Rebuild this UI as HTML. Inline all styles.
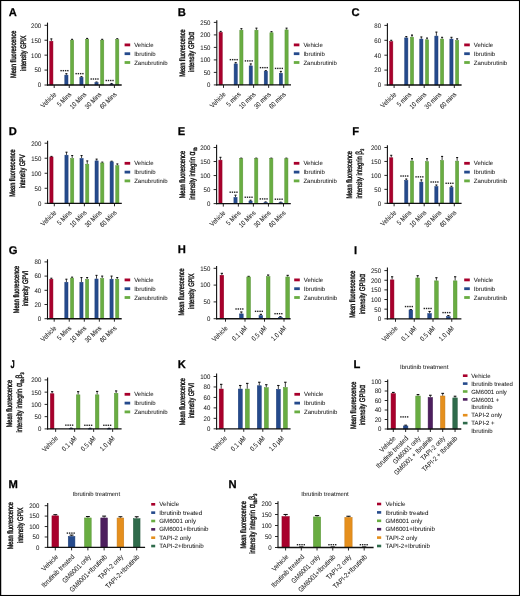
<!DOCTYPE html>
<html><head><meta charset="utf-8"><title>Figure</title>
<style>
html,body{margin:0;padding:0;background:#fff;}
body{width:520px;height:596px;overflow:hidden;}
svg{display:block;font-family:"Liberation Sans", sans-serif;will-change:transform;text-rendering:geometricPrecision;}
text{stroke:#1a1a1a;stroke-width:0.04px;}
.yt{stroke-width:0.42px;}
.lt{stroke:#000;stroke-width:0.25px;}
</style></head><body>
<svg width="520" height="596" viewBox="0 0 520 596">
<rect x="0" y="0" width="520" height="596" fill="#fff"/>
<text class="lt" transform="translate(8.8,16.2) scale(1.0,1)" font-size="11.2" font-weight="bold" fill="#000">A</text>
<line x1="51.35" y1="38.88" x2="51.35" y2="40.97" stroke="#111" stroke-width="0.8"/>
<line x1="50.35" y1="38.88" x2="52.35" y2="38.88" stroke="#111" stroke-width="1.1"/>
<rect x="49.75" y="41.22" width="3.2" height="43.78" fill="#a8002c" stroke="#900025" stroke-width="0.5"/>
<line x1="66.4" y1="73.66" x2="66.4" y2="74.85" stroke="#111" stroke-width="0.8"/>
<line x1="65.4" y1="73.66" x2="67.4" y2="73.66" stroke="#111" stroke-width="1.1"/>
<rect x="64.8" y="75.1" width="3.2" height="9.9" fill="#254a8c" stroke="#1f3f78" stroke-width="0.5"/>
<line x1="72.1" y1="39.33" x2="72.1" y2="39.93" stroke="#111" stroke-width="0.8"/>
<line x1="71.1" y1="39.33" x2="73.1" y2="39.33" stroke="#111" stroke-width="1.1"/>
<rect x="70.5" y="40.18" width="3.2" height="44.82" fill="#69ad42" stroke="#5a9438" stroke-width="0.5"/>
<rect x="60.4" y="69.96" width="1.4" height="1.4" fill="#222"/>
<rect x="62.65" y="69.96" width="1.4" height="1.4" fill="#222"/>
<rect x="64.9" y="69.96" width="1.4" height="1.4" fill="#222"/>
<rect x="67.15" y="69.96" width="1.4" height="1.4" fill="#222"/>
<line x1="81.45" y1="76.64" x2="81.45" y2="77.09" stroke="#111" stroke-width="0.8"/>
<line x1="80.45" y1="76.64" x2="82.45" y2="76.64" stroke="#111" stroke-width="1.1"/>
<rect x="79.85" y="77.34" width="3.2" height="7.66" fill="#254a8c" stroke="#1f3f78" stroke-width="0.5"/>
<line x1="87.15" y1="38.43" x2="87.15" y2="39.03" stroke="#111" stroke-width="0.8"/>
<line x1="86.15" y1="38.43" x2="88.15" y2="38.43" stroke="#111" stroke-width="1.1"/>
<rect x="85.55" y="39.28" width="3.2" height="45.72" fill="#69ad42" stroke="#5a9438" stroke-width="0.5"/>
<rect x="75.45" y="72.94" width="1.4" height="1.4" fill="#222"/>
<rect x="77.7" y="72.94" width="1.4" height="1.4" fill="#222"/>
<rect x="79.95" y="72.94" width="1.4" height="1.4" fill="#222"/>
<rect x="82.2" y="72.94" width="1.4" height="1.4" fill="#222"/>
<line x1="96.5" y1="82.02" x2="96.5" y2="82.31" stroke="#111" stroke-width="0.8"/>
<line x1="95.5" y1="82.02" x2="97.5" y2="82.02" stroke="#111" stroke-width="1.1"/>
<rect x="94.9" y="82.56" width="3.2" height="2.44" fill="#254a8c" stroke="#1f3f78" stroke-width="0.5"/>
<line x1="102.2" y1="39.33" x2="102.2" y2="39.93" stroke="#111" stroke-width="0.8"/>
<line x1="101.2" y1="39.33" x2="103.2" y2="39.33" stroke="#111" stroke-width="1.1"/>
<rect x="100.6" y="40.18" width="3.2" height="44.82" fill="#69ad42" stroke="#5a9438" stroke-width="0.5"/>
<rect x="90.5" y="78.31" width="1.4" height="1.4" fill="#222"/>
<rect x="92.75" y="78.31" width="1.4" height="1.4" fill="#222"/>
<rect x="95" y="78.31" width="1.4" height="1.4" fill="#222"/>
<rect x="97.25" y="78.31" width="1.4" height="1.4" fill="#222"/>
<line x1="111.55" y1="83.51" x2="111.55" y2="83.81" stroke="#111" stroke-width="0.8"/>
<line x1="110.55" y1="83.51" x2="112.55" y2="83.51" stroke="#111" stroke-width="1.1"/>
<rect x="109.95" y="84.06" width="3.2" height="0.94" fill="#254a8c" stroke="#1f3f78" stroke-width="0.5"/>
<line x1="117.25" y1="38.73" x2="117.25" y2="39.33" stroke="#111" stroke-width="0.8"/>
<line x1="116.25" y1="38.73" x2="118.25" y2="38.73" stroke="#111" stroke-width="1.1"/>
<rect x="115.65" y="39.58" width="3.2" height="45.42" fill="#69ad42" stroke="#5a9438" stroke-width="0.5"/>
<rect x="105.55" y="79.81" width="1.4" height="1.4" fill="#222"/>
<rect x="107.8" y="79.81" width="1.4" height="1.4" fill="#222"/>
<rect x="110.05" y="79.81" width="1.4" height="1.4" fill="#222"/>
<rect x="112.3" y="79.81" width="1.4" height="1.4" fill="#222"/>
<text transform="translate(56.8,94.9) rotate(-45) scale(0.85,1)" font-size="6.9" text-anchor="end" fill="#1a1a1a">Vehicle</text>
<text transform="translate(71.85,94.9) rotate(-45) scale(0.85,1)" font-size="6.9" text-anchor="end" fill="#1a1a1a">5 Mins</text>
<text transform="translate(86.9,94.9) rotate(-45) scale(0.85,1)" font-size="6.9" text-anchor="end" fill="#1a1a1a">10 Mins</text>
<text transform="translate(101.95,94.9) rotate(-45) scale(0.85,1)" font-size="6.9" text-anchor="end" fill="#1a1a1a">30 Mins</text>
<text transform="translate(117,94.9) rotate(-45) scale(0.85,1)" font-size="6.9" text-anchor="end" fill="#1a1a1a">60 Mins</text>
<text class="yt" transform="translate(15.5,54.3) rotate(-90) scale(0.7,1)" font-size="8" text-anchor="middle" fill="#1a1a1a">Mean fluorescence</text>
<text class="yt" transform="translate(25.9,53.2) rotate(-90) scale(0.7,1)" font-size="8" text-anchor="middle" fill="#1a1a1a">intensity GPIX</text>
<rect x="124.6" y="43.5" width="5.6" height="2.8" fill="#a8002c"/>
<text x="134.2" y="47" font-size="6.0" fill="#1a1a1a">Vehicle</text>
<rect x="124.6" y="52.3" width="5.6" height="2.8" fill="#254a8c"/>
<text x="134.2" y="55.8" font-size="6.0" fill="#1a1a1a">Ibrutinib</text>
<rect x="124.6" y="61.1" width="5.6" height="2.8" fill="#69ad42"/>
<text x="134.2" y="64.6" font-size="6.0" fill="#1a1a1a">Zanubrutinib</text>
<line x1="47.5" y1="22.6" x2="47.5" y2="85.6" stroke="#111" stroke-width="1.1"/>
<line x1="46.95" y1="85" x2="121.7" y2="85" stroke="#111" stroke-width="1.35"/>
<line x1="44.5" y1="85" x2="47.5" y2="85" stroke="#111" stroke-width="0.9"/>
<text transform="translate(41.2,87.35) scale(0.92,1)" font-size="6.6" text-anchor="end" fill="#1a1a1a">0</text>
<line x1="44.5" y1="70.08" x2="47.5" y2="70.08" stroke="#111" stroke-width="0.9"/>
<text transform="translate(41.2,72.42) scale(0.92,1)" font-size="6.6" text-anchor="end" fill="#1a1a1a">50</text>
<line x1="44.5" y1="55.15" x2="47.5" y2="55.15" stroke="#111" stroke-width="0.9"/>
<text transform="translate(41.2,57.5) scale(0.92,1)" font-size="6.6" text-anchor="end" fill="#1a1a1a">100</text>
<line x1="44.5" y1="40.23" x2="47.5" y2="40.23" stroke="#111" stroke-width="0.9"/>
<text transform="translate(41.2,42.58) scale(0.92,1)" font-size="6.6" text-anchor="end" fill="#1a1a1a">150</text>
<line x1="44.5" y1="25.3" x2="47.5" y2="25.3" stroke="#111" stroke-width="0.9"/>
<text transform="translate(41.2,27.65) scale(0.92,1)" font-size="6.6" text-anchor="end" fill="#1a1a1a">200</text>
<line x1="54.2" y1="85" x2="54.2" y2="88" stroke="#111" stroke-width="0.9"/>
<line x1="69.25" y1="85" x2="69.25" y2="88" stroke="#111" stroke-width="0.9"/>
<line x1="84.3" y1="85" x2="84.3" y2="88" stroke="#111" stroke-width="0.9"/>
<line x1="99.35" y1="85" x2="99.35" y2="88" stroke="#111" stroke-width="0.9"/>
<line x1="114.4" y1="85" x2="114.4" y2="88" stroke="#111" stroke-width="0.9"/>
<text class="lt" transform="translate(177.8,16.2) scale(1.0,1)" font-size="11.2" font-weight="bold" fill="#000">B</text>
<line x1="220.65" y1="31.4" x2="220.65" y2="32.15" stroke="#111" stroke-width="0.8"/>
<line x1="219.65" y1="31.4" x2="221.65" y2="31.4" stroke="#111" stroke-width="1.1"/>
<rect x="219.05" y="32.4" width="3.2" height="52.5" fill="#a8002c" stroke="#900025" stroke-width="0.5"/>
<line x1="235.7" y1="62.65" x2="235.7" y2="63.65" stroke="#111" stroke-width="0.8"/>
<line x1="234.7" y1="62.65" x2="236.7" y2="62.65" stroke="#111" stroke-width="1.1"/>
<rect x="234.1" y="63.9" width="3.2" height="21" fill="#254a8c" stroke="#1f3f78" stroke-width="0.5"/>
<line x1="241.4" y1="28.65" x2="241.4" y2="29.9" stroke="#111" stroke-width="0.8"/>
<line x1="240.4" y1="28.65" x2="242.4" y2="28.65" stroke="#111" stroke-width="1.1"/>
<rect x="239.8" y="30.15" width="3.2" height="54.75" fill="#69ad42" stroke="#5a9438" stroke-width="0.5"/>
<rect x="229.7" y="58.95" width="1.4" height="1.4" fill="#222"/>
<rect x="231.95" y="58.95" width="1.4" height="1.4" fill="#222"/>
<rect x="234.2" y="58.95" width="1.4" height="1.4" fill="#222"/>
<rect x="236.45" y="58.95" width="1.4" height="1.4" fill="#222"/>
<line x1="250.75" y1="63.9" x2="250.75" y2="65.65" stroke="#111" stroke-width="0.8"/>
<line x1="249.75" y1="63.9" x2="251.75" y2="63.9" stroke="#111" stroke-width="1.1"/>
<rect x="249.15" y="65.9" width="3.2" height="19" fill="#254a8c" stroke="#1f3f78" stroke-width="0.5"/>
<line x1="256.45" y1="28.15" x2="256.45" y2="29.9" stroke="#111" stroke-width="0.8"/>
<line x1="255.45" y1="28.15" x2="257.45" y2="28.15" stroke="#111" stroke-width="1.1"/>
<rect x="254.85" y="30.15" width="3.2" height="54.75" fill="#69ad42" stroke="#5a9438" stroke-width="0.5"/>
<rect x="244.75" y="60.2" width="1.4" height="1.4" fill="#222"/>
<rect x="247" y="60.2" width="1.4" height="1.4" fill="#222"/>
<rect x="249.25" y="60.2" width="1.4" height="1.4" fill="#222"/>
<rect x="251.5" y="60.2" width="1.4" height="1.4" fill="#222"/>
<line x1="265.8" y1="70.65" x2="265.8" y2="70.9" stroke="#111" stroke-width="0.8"/>
<line x1="264.8" y1="70.65" x2="266.8" y2="70.65" stroke="#111" stroke-width="1.1"/>
<rect x="264.2" y="71.15" width="3.2" height="13.75" fill="#254a8c" stroke="#1f3f78" stroke-width="0.5"/>
<line x1="271.5" y1="31.65" x2="271.5" y2="32.5" stroke="#111" stroke-width="0.8"/>
<line x1="270.5" y1="31.65" x2="272.5" y2="31.65" stroke="#111" stroke-width="1.1"/>
<rect x="269.9" y="32.75" width="3.2" height="52.15" fill="#69ad42" stroke="#5a9438" stroke-width="0.5"/>
<rect x="259.8" y="66.95" width="1.4" height="1.4" fill="#222"/>
<rect x="262.05" y="66.95" width="1.4" height="1.4" fill="#222"/>
<rect x="264.3" y="66.95" width="1.4" height="1.4" fill="#222"/>
<rect x="266.55" y="66.95" width="1.4" height="1.4" fill="#222"/>
<line x1="280.85" y1="71.4" x2="280.85" y2="73" stroke="#111" stroke-width="0.8"/>
<line x1="279.85" y1="71.4" x2="281.85" y2="71.4" stroke="#111" stroke-width="1.1"/>
<rect x="279.25" y="73.25" width="3.2" height="11.65" fill="#254a8c" stroke="#1f3f78" stroke-width="0.5"/>
<line x1="286.55" y1="28.15" x2="286.55" y2="29.65" stroke="#111" stroke-width="0.8"/>
<line x1="285.55" y1="28.15" x2="287.55" y2="28.15" stroke="#111" stroke-width="1.1"/>
<rect x="284.95" y="29.9" width="3.2" height="55" fill="#69ad42" stroke="#5a9438" stroke-width="0.5"/>
<rect x="274.85" y="67.7" width="1.4" height="1.4" fill="#222"/>
<rect x="277.1" y="67.7" width="1.4" height="1.4" fill="#222"/>
<rect x="279.35" y="67.7" width="1.4" height="1.4" fill="#222"/>
<rect x="281.6" y="67.7" width="1.4" height="1.4" fill="#222"/>
<text transform="translate(226.1,94.8) rotate(-45) scale(0.85,1)" font-size="6.9" text-anchor="end" fill="#1a1a1a">Vehicle</text>
<text transform="translate(241.15,94.8) rotate(-45) scale(0.85,1)" font-size="6.9" text-anchor="end" fill="#1a1a1a">5 mins</text>
<text transform="translate(256.2,94.8) rotate(-45) scale(0.85,1)" font-size="6.9" text-anchor="end" fill="#1a1a1a">10 mins</text>
<text transform="translate(271.25,94.8) rotate(-45) scale(0.85,1)" font-size="6.9" text-anchor="end" fill="#1a1a1a">30 mins</text>
<text transform="translate(286.3,94.8) rotate(-45) scale(0.85,1)" font-size="6.9" text-anchor="end" fill="#1a1a1a">60 mins</text>
<text class="yt" transform="translate(184.6,53.05) rotate(-90) scale(0.7,1)" font-size="8" text-anchor="middle" fill="#1a1a1a">Mean fluorescence</text>
<text class="yt" transform="translate(193.7,51.95) rotate(-90) scale(0.73,1)" font-size="8" text-anchor="middle" fill="#1a1a1a">intensity GPIb<tspan font-size="9.5">α</tspan></text>
<rect x="293.8" y="43.5" width="5.6" height="2.8" fill="#a8002c"/>
<text x="303.4" y="47" font-size="6.0" fill="#1a1a1a">Vehicle</text>
<rect x="293.8" y="52.3" width="5.6" height="2.8" fill="#254a8c"/>
<text x="303.4" y="55.8" font-size="6.0" fill="#1a1a1a">Ibrutinib</text>
<rect x="293.8" y="61.1" width="5.6" height="2.8" fill="#69ad42"/>
<text x="303.4" y="64.6" font-size="6.0" fill="#1a1a1a">Zanubrutinib</text>
<line x1="216.8" y1="20.2" x2="216.8" y2="85.5" stroke="#111" stroke-width="1.1"/>
<line x1="216.25" y1="84.9" x2="291" y2="84.9" stroke="#111" stroke-width="1.35"/>
<line x1="213.8" y1="84.9" x2="216.8" y2="84.9" stroke="#111" stroke-width="0.9"/>
<text transform="translate(210.5,87.25) scale(0.92,1)" font-size="6.6" text-anchor="end" fill="#1a1a1a">0</text>
<line x1="213.8" y1="72.4" x2="216.8" y2="72.4" stroke="#111" stroke-width="0.9"/>
<text transform="translate(210.5,74.75) scale(0.92,1)" font-size="6.6" text-anchor="end" fill="#1a1a1a">50</text>
<line x1="213.8" y1="59.9" x2="216.8" y2="59.9" stroke="#111" stroke-width="0.9"/>
<text transform="translate(210.5,62.25) scale(0.92,1)" font-size="6.6" text-anchor="end" fill="#1a1a1a">100</text>
<line x1="213.8" y1="47.4" x2="216.8" y2="47.4" stroke="#111" stroke-width="0.9"/>
<text transform="translate(210.5,49.75) scale(0.92,1)" font-size="6.6" text-anchor="end" fill="#1a1a1a">150</text>
<line x1="213.8" y1="34.9" x2="216.8" y2="34.9" stroke="#111" stroke-width="0.9"/>
<text transform="translate(210.5,37.25) scale(0.92,1)" font-size="6.6" text-anchor="end" fill="#1a1a1a">200</text>
<line x1="213.8" y1="22.4" x2="216.8" y2="22.4" stroke="#111" stroke-width="0.9"/>
<text transform="translate(210.5,24.75) scale(0.92,1)" font-size="6.6" text-anchor="end" fill="#1a1a1a">250</text>
<line x1="223.5" y1="84.9" x2="223.5" y2="87.9" stroke="#111" stroke-width="0.9"/>
<line x1="238.55" y1="84.9" x2="238.55" y2="87.9" stroke="#111" stroke-width="0.9"/>
<line x1="253.6" y1="84.9" x2="253.6" y2="87.9" stroke="#111" stroke-width="0.9"/>
<line x1="268.65" y1="84.9" x2="268.65" y2="87.9" stroke="#111" stroke-width="0.9"/>
<line x1="283.7" y1="84.9" x2="283.7" y2="87.9" stroke="#111" stroke-width="0.9"/>
<text class="lt" transform="translate(351.6,16.2) scale(1.0,1)" font-size="11.2" font-weight="bold" fill="#000">C</text>
<line x1="391.25" y1="40.3" x2="391.25" y2="41.42" stroke="#111" stroke-width="0.8"/>
<line x1="390.25" y1="40.3" x2="392.25" y2="40.3" stroke="#111" stroke-width="1.1"/>
<rect x="389.65" y="41.67" width="3.2" height="43.33" fill="#a8002c" stroke="#900025" stroke-width="0.5"/>
<line x1="406.3" y1="36.58" x2="406.3" y2="37.69" stroke="#111" stroke-width="0.8"/>
<line x1="405.3" y1="36.58" x2="407.3" y2="36.58" stroke="#111" stroke-width="1.1"/>
<rect x="404.7" y="37.94" width="3.2" height="47.06" fill="#254a8c" stroke="#1f3f78" stroke-width="0.5"/>
<line x1="412" y1="35.09" x2="412" y2="36.95" stroke="#111" stroke-width="0.8"/>
<line x1="411" y1="35.09" x2="413" y2="35.09" stroke="#111" stroke-width="1.1"/>
<rect x="410.4" y="37.2" width="3.2" height="47.8" fill="#69ad42" stroke="#5a9438" stroke-width="0.5"/>
<line x1="421.35" y1="36.95" x2="421.35" y2="38.81" stroke="#111" stroke-width="0.8"/>
<line x1="420.35" y1="36.95" x2="422.35" y2="36.95" stroke="#111" stroke-width="1.1"/>
<rect x="419.75" y="39.06" width="3.2" height="45.94" fill="#254a8c" stroke="#1f3f78" stroke-width="0.5"/>
<line x1="427.05" y1="38.06" x2="427.05" y2="39.55" stroke="#111" stroke-width="0.8"/>
<line x1="426.05" y1="38.06" x2="428.05" y2="38.06" stroke="#111" stroke-width="1.1"/>
<rect x="425.45" y="39.8" width="3.2" height="45.2" fill="#69ad42" stroke="#5a9438" stroke-width="0.5"/>
<line x1="436.4" y1="32.1" x2="436.4" y2="35.83" stroke="#111" stroke-width="0.8"/>
<line x1="435.4" y1="32.1" x2="437.4" y2="32.1" stroke="#111" stroke-width="1.1"/>
<rect x="434.8" y="36.08" width="3.2" height="48.92" fill="#254a8c" stroke="#1f3f78" stroke-width="0.5"/>
<line x1="442.1" y1="37.32" x2="442.1" y2="38.81" stroke="#111" stroke-width="0.8"/>
<line x1="441.1" y1="37.32" x2="443.1" y2="37.32" stroke="#111" stroke-width="1.1"/>
<rect x="440.5" y="39.06" width="3.2" height="45.94" fill="#69ad42" stroke="#5a9438" stroke-width="0.5"/>
<line x1="451.45" y1="37.32" x2="451.45" y2="38.81" stroke="#111" stroke-width="0.8"/>
<line x1="450.45" y1="37.32" x2="452.45" y2="37.32" stroke="#111" stroke-width="1.1"/>
<rect x="449.85" y="39.06" width="3.2" height="45.94" fill="#254a8c" stroke="#1f3f78" stroke-width="0.5"/>
<line x1="457.15" y1="38.81" x2="457.15" y2="40.3" stroke="#111" stroke-width="0.8"/>
<line x1="456.15" y1="38.81" x2="458.15" y2="38.81" stroke="#111" stroke-width="1.1"/>
<rect x="455.55" y="40.55" width="3.2" height="44.45" fill="#69ad42" stroke="#5a9438" stroke-width="0.5"/>
<text transform="translate(396.7,94.9) rotate(-45) scale(0.85,1)" font-size="6.9" text-anchor="end" fill="#1a1a1a">Vehicle</text>
<text transform="translate(411.75,94.9) rotate(-45) scale(0.85,1)" font-size="6.9" text-anchor="end" fill="#1a1a1a">5 mins</text>
<text transform="translate(426.8,94.9) rotate(-45) scale(0.85,1)" font-size="6.9" text-anchor="end" fill="#1a1a1a">10 mins</text>
<text transform="translate(441.85,94.9) rotate(-45) scale(0.85,1)" font-size="6.9" text-anchor="end" fill="#1a1a1a">30 mins</text>
<text transform="translate(456.9,94.9) rotate(-45) scale(0.85,1)" font-size="6.9" text-anchor="end" fill="#1a1a1a">60 mins</text>
<rect x="464.2" y="43.5" width="5.6" height="2.8" fill="#a8002c"/>
<text x="473.8" y="47" font-size="6.0" fill="#1a1a1a">Vehicle</text>
<rect x="464.2" y="52.3" width="5.6" height="2.8" fill="#254a8c"/>
<text x="473.8" y="55.8" font-size="6.0" fill="#1a1a1a">Ibrutinib</text>
<rect x="464.2" y="61.1" width="5.6" height="2.8" fill="#69ad42"/>
<text x="473.8" y="64.6" font-size="6.0" fill="#1a1a1a">Zanubrutinib</text>
<line x1="387.4" y1="23.2" x2="387.4" y2="85.6" stroke="#111" stroke-width="1.1"/>
<line x1="386.85" y1="85" x2="461.6" y2="85" stroke="#111" stroke-width="1.35"/>
<line x1="384.4" y1="85" x2="387.4" y2="85" stroke="#111" stroke-width="0.9"/>
<text transform="translate(381.1,87.35) scale(0.92,1)" font-size="6.6" text-anchor="end" fill="#1a1a1a">0</text>
<line x1="384.4" y1="70.1" x2="387.4" y2="70.1" stroke="#111" stroke-width="0.9"/>
<text transform="translate(381.1,72.45) scale(0.92,1)" font-size="6.6" text-anchor="end" fill="#1a1a1a">20</text>
<line x1="384.4" y1="55.2" x2="387.4" y2="55.2" stroke="#111" stroke-width="0.9"/>
<text transform="translate(381.1,57.55) scale(0.92,1)" font-size="6.6" text-anchor="end" fill="#1a1a1a">40</text>
<line x1="384.4" y1="40.3" x2="387.4" y2="40.3" stroke="#111" stroke-width="0.9"/>
<text transform="translate(381.1,42.65) scale(0.92,1)" font-size="6.6" text-anchor="end" fill="#1a1a1a">60</text>
<line x1="384.4" y1="25.4" x2="387.4" y2="25.4" stroke="#111" stroke-width="0.9"/>
<text transform="translate(381.1,27.75) scale(0.92,1)" font-size="6.6" text-anchor="end" fill="#1a1a1a">80</text>
<line x1="394.1" y1="85" x2="394.1" y2="88" stroke="#111" stroke-width="0.9"/>
<line x1="409.15" y1="85" x2="409.15" y2="88" stroke="#111" stroke-width="0.9"/>
<line x1="424.2" y1="85" x2="424.2" y2="88" stroke="#111" stroke-width="0.9"/>
<line x1="439.25" y1="85" x2="439.25" y2="88" stroke="#111" stroke-width="0.9"/>
<line x1="454.3" y1="85" x2="454.3" y2="88" stroke="#111" stroke-width="0.9"/>
<text class="lt" transform="translate(8.8,134.8) scale(1.0,1)" font-size="11.2" font-weight="bold" fill="#000">D</text>
<line x1="51.45" y1="156.42" x2="51.45" y2="156.72" stroke="#111" stroke-width="0.8"/>
<line x1="50.45" y1="156.42" x2="52.45" y2="156.42" stroke="#111" stroke-width="1.1"/>
<rect x="49.85" y="156.97" width="3.2" height="46.33" fill="#a8002c" stroke="#900025" stroke-width="0.5"/>
<line x1="66.5" y1="152.22" x2="66.5" y2="154.92" stroke="#111" stroke-width="0.8"/>
<line x1="65.5" y1="152.22" x2="67.5" y2="152.22" stroke="#111" stroke-width="1.1"/>
<rect x="64.9" y="155.17" width="3.2" height="48.13" fill="#254a8c" stroke="#1f3f78" stroke-width="0.5"/>
<line x1="72.2" y1="155.52" x2="72.2" y2="158.23" stroke="#111" stroke-width="0.8"/>
<line x1="71.2" y1="155.52" x2="73.2" y2="155.52" stroke="#111" stroke-width="1.1"/>
<rect x="70.6" y="158.48" width="3.2" height="44.82" fill="#69ad42" stroke="#5a9438" stroke-width="0.5"/>
<line x1="81.55" y1="155.52" x2="81.55" y2="158.23" stroke="#111" stroke-width="0.8"/>
<line x1="80.55" y1="155.52" x2="82.55" y2="155.52" stroke="#111" stroke-width="1.1"/>
<rect x="79.95" y="158.48" width="3.2" height="44.82" fill="#254a8c" stroke="#1f3f78" stroke-width="0.5"/>
<line x1="87.25" y1="160.93" x2="87.25" y2="163.93" stroke="#111" stroke-width="0.8"/>
<line x1="86.25" y1="160.93" x2="88.25" y2="160.93" stroke="#111" stroke-width="1.1"/>
<rect x="85.65" y="164.18" width="3.2" height="39.12" fill="#69ad42" stroke="#5a9438" stroke-width="0.5"/>
<line x1="96.6" y1="159.13" x2="96.6" y2="160.63" stroke="#111" stroke-width="0.8"/>
<line x1="95.6" y1="159.13" x2="97.6" y2="159.13" stroke="#111" stroke-width="1.1"/>
<rect x="95" y="160.88" width="3.2" height="42.42" fill="#254a8c" stroke="#1f3f78" stroke-width="0.5"/>
<line x1="102.3" y1="162.13" x2="102.3" y2="162.73" stroke="#111" stroke-width="0.8"/>
<line x1="101.3" y1="162.13" x2="103.3" y2="162.13" stroke="#111" stroke-width="1.1"/>
<rect x="100.7" y="162.98" width="3.2" height="40.32" fill="#69ad42" stroke="#5a9438" stroke-width="0.5"/>
<line x1="111.65" y1="161.23" x2="111.65" y2="161.53" stroke="#111" stroke-width="0.8"/>
<line x1="110.65" y1="161.23" x2="112.65" y2="161.23" stroke="#111" stroke-width="1.1"/>
<rect x="110.05" y="161.78" width="3.2" height="41.52" fill="#254a8c" stroke="#1f3f78" stroke-width="0.5"/>
<line x1="117.35" y1="163.93" x2="117.35" y2="165.44" stroke="#111" stroke-width="0.8"/>
<line x1="116.35" y1="163.93" x2="118.35" y2="163.93" stroke="#111" stroke-width="1.1"/>
<rect x="115.75" y="165.69" width="3.2" height="37.61" fill="#69ad42" stroke="#5a9438" stroke-width="0.5"/>
<text transform="translate(56.9,213.2) rotate(-45) scale(0.85,1)" font-size="6.9" text-anchor="end" fill="#1a1a1a">Vehicle</text>
<text transform="translate(71.95,213.2) rotate(-45) scale(0.85,1)" font-size="6.9" text-anchor="end" fill="#1a1a1a">5 Mins</text>
<text transform="translate(87,213.2) rotate(-45) scale(0.85,1)" font-size="6.9" text-anchor="end" fill="#1a1a1a">10 Mins</text>
<text transform="translate(102.05,213.2) rotate(-45) scale(0.85,1)" font-size="6.9" text-anchor="end" fill="#1a1a1a">30 Mins</text>
<text transform="translate(117.1,213.2) rotate(-45) scale(0.85,1)" font-size="6.9" text-anchor="end" fill="#1a1a1a">60 Mins</text>
<text class="yt" transform="translate(15.3,173.1) rotate(-90) scale(0.7,1)" font-size="8" text-anchor="middle" fill="#1a1a1a">Mean fluorescence</text>
<text class="yt" transform="translate(25.2,171.4) rotate(-90) scale(0.7,1)" font-size="8" text-anchor="middle" fill="#1a1a1a">intensity GPV</text>
<rect x="124.6" y="161.9" width="5.6" height="2.8" fill="#a8002c"/>
<text x="134.2" y="165.4" font-size="6.0" fill="#1a1a1a">Vehicle</text>
<rect x="124.6" y="170.7" width="5.6" height="2.8" fill="#254a8c"/>
<text x="134.2" y="174.2" font-size="6.0" fill="#1a1a1a">Ibrutinib</text>
<rect x="124.6" y="179.5" width="5.6" height="2.8" fill="#69ad42"/>
<text x="134.2" y="183" font-size="6.0" fill="#1a1a1a">Zanubrutinib</text>
<line x1="47.6" y1="140.7" x2="47.6" y2="203.9" stroke="#111" stroke-width="1.1"/>
<line x1="47.05" y1="203.3" x2="121.8" y2="203.3" stroke="#111" stroke-width="1.35"/>
<line x1="44.6" y1="203.3" x2="47.6" y2="203.3" stroke="#111" stroke-width="0.9"/>
<text transform="translate(41.3,205.65) scale(0.92,1)" font-size="6.6" text-anchor="end" fill="#1a1a1a">0</text>
<line x1="44.6" y1="188.28" x2="47.6" y2="188.28" stroke="#111" stroke-width="0.9"/>
<text transform="translate(41.3,190.62) scale(0.92,1)" font-size="6.6" text-anchor="end" fill="#1a1a1a">50</text>
<line x1="44.6" y1="173.25" x2="47.6" y2="173.25" stroke="#111" stroke-width="0.9"/>
<text transform="translate(41.3,175.6) scale(0.92,1)" font-size="6.6" text-anchor="end" fill="#1a1a1a">100</text>
<line x1="44.6" y1="158.23" x2="47.6" y2="158.23" stroke="#111" stroke-width="0.9"/>
<text transform="translate(41.3,160.58) scale(0.92,1)" font-size="6.6" text-anchor="end" fill="#1a1a1a">150</text>
<line x1="44.6" y1="143.2" x2="47.6" y2="143.2" stroke="#111" stroke-width="0.9"/>
<text transform="translate(41.3,145.55) scale(0.92,1)" font-size="6.6" text-anchor="end" fill="#1a1a1a">200</text>
<line x1="54.3" y1="203.3" x2="54.3" y2="206.3" stroke="#111" stroke-width="0.9"/>
<line x1="69.35" y1="203.3" x2="69.35" y2="206.3" stroke="#111" stroke-width="0.9"/>
<line x1="84.4" y1="203.3" x2="84.4" y2="206.3" stroke="#111" stroke-width="0.9"/>
<line x1="99.45" y1="203.3" x2="99.45" y2="206.3" stroke="#111" stroke-width="0.9"/>
<line x1="114.5" y1="203.3" x2="114.5" y2="206.3" stroke="#111" stroke-width="0.9"/>
<text class="lt" transform="translate(177.8,134.6) scale(1.0,1)" font-size="11.2" font-weight="bold" fill="#000">E</text>
<line x1="220.45" y1="157.32" x2="220.45" y2="159.9" stroke="#111" stroke-width="0.8"/>
<line x1="219.45" y1="157.32" x2="221.45" y2="157.32" stroke="#111" stroke-width="1.1"/>
<rect x="218.85" y="160.15" width="3.2" height="43.45" fill="#a8002c" stroke="#900025" stroke-width="0.5"/>
<line x1="235.5" y1="195.19" x2="235.5" y2="197.15" stroke="#111" stroke-width="0.8"/>
<line x1="234.5" y1="195.19" x2="236.5" y2="195.19" stroke="#111" stroke-width="1.1"/>
<rect x="233.9" y="197.4" width="3.2" height="6.2" fill="#254a8c" stroke="#1f3f78" stroke-width="0.5"/>
<line x1="241.2" y1="158.16" x2="241.2" y2="158.44" stroke="#111" stroke-width="0.8"/>
<line x1="240.2" y1="158.16" x2="242.2" y2="158.16" stroke="#111" stroke-width="1.1"/>
<rect x="239.6" y="158.69" width="3.2" height="44.91" fill="#69ad42" stroke="#5a9438" stroke-width="0.5"/>
<rect x="229.5" y="191.49" width="1.4" height="1.4" fill="#222"/>
<rect x="231.75" y="191.49" width="1.4" height="1.4" fill="#222"/>
<rect x="234" y="191.49" width="1.4" height="1.4" fill="#222"/>
<rect x="236.25" y="191.49" width="1.4" height="1.4" fill="#222"/>
<line x1="250.55" y1="200.23" x2="250.55" y2="200.79" stroke="#111" stroke-width="0.8"/>
<line x1="249.55" y1="200.23" x2="251.55" y2="200.23" stroke="#111" stroke-width="1.1"/>
<rect x="248.95" y="201.04" width="3.2" height="2.56" fill="#254a8c" stroke="#1f3f78" stroke-width="0.5"/>
<line x1="256.25" y1="158.16" x2="256.25" y2="158.44" stroke="#111" stroke-width="0.8"/>
<line x1="255.25" y1="158.16" x2="257.25" y2="158.16" stroke="#111" stroke-width="1.1"/>
<rect x="254.65" y="158.69" width="3.2" height="44.91" fill="#69ad42" stroke="#5a9438" stroke-width="0.5"/>
<rect x="244.55" y="196.53" width="1.4" height="1.4" fill="#222"/>
<rect x="246.8" y="196.53" width="1.4" height="1.4" fill="#222"/>
<rect x="249.05" y="196.53" width="1.4" height="1.4" fill="#222"/>
<rect x="251.3" y="196.53" width="1.4" height="1.4" fill="#222"/>
<line x1="265.6" y1="201.92" x2="265.6" y2="202.2" stroke="#111" stroke-width="0.8"/>
<line x1="264.6" y1="201.92" x2="266.6" y2="201.92" stroke="#111" stroke-width="1.1"/>
<rect x="264" y="202.45" width="3.2" height="1.15" fill="#254a8c" stroke="#1f3f78" stroke-width="0.5"/>
<line x1="271.3" y1="158.16" x2="271.3" y2="158.44" stroke="#111" stroke-width="0.8"/>
<line x1="270.3" y1="158.16" x2="272.3" y2="158.16" stroke="#111" stroke-width="1.1"/>
<rect x="269.7" y="158.69" width="3.2" height="44.91" fill="#69ad42" stroke="#5a9438" stroke-width="0.5"/>
<rect x="259.6" y="198.22" width="1.4" height="1.4" fill="#222"/>
<rect x="261.85" y="198.22" width="1.4" height="1.4" fill="#222"/>
<rect x="264.1" y="198.22" width="1.4" height="1.4" fill="#222"/>
<rect x="266.35" y="198.22" width="1.4" height="1.4" fill="#222"/>
<line x1="280.65" y1="202.2" x2="280.65" y2="202.48" stroke="#111" stroke-width="0.8"/>
<line x1="279.65" y1="202.2" x2="281.65" y2="202.2" stroke="#111" stroke-width="1.1"/>
<rect x="279.05" y="202.73" width="3.2" height="0.87" fill="#254a8c" stroke="#1f3f78" stroke-width="0.5"/>
<line x1="286.35" y1="158.16" x2="286.35" y2="158.44" stroke="#111" stroke-width="0.8"/>
<line x1="285.35" y1="158.16" x2="287.35" y2="158.16" stroke="#111" stroke-width="1.1"/>
<rect x="284.75" y="158.69" width="3.2" height="44.91" fill="#69ad42" stroke="#5a9438" stroke-width="0.5"/>
<rect x="274.65" y="198.5" width="1.4" height="1.4" fill="#222"/>
<rect x="276.9" y="198.5" width="1.4" height="1.4" fill="#222"/>
<rect x="279.15" y="198.5" width="1.4" height="1.4" fill="#222"/>
<rect x="281.4" y="198.5" width="1.4" height="1.4" fill="#222"/>
<text transform="translate(225.9,213.5) rotate(-45) scale(0.85,1)" font-size="6.9" text-anchor="end" fill="#1a1a1a">Vehicle</text>
<text transform="translate(240.95,213.5) rotate(-45) scale(0.85,1)" font-size="6.9" text-anchor="end" fill="#1a1a1a">5 Mins</text>
<text transform="translate(256,213.5) rotate(-45) scale(0.85,1)" font-size="6.9" text-anchor="end" fill="#1a1a1a">10 Mins</text>
<text transform="translate(271.05,213.5) rotate(-45) scale(0.85,1)" font-size="6.9" text-anchor="end" fill="#1a1a1a">30 Mins</text>
<text transform="translate(286.1,213.5) rotate(-45) scale(0.85,1)" font-size="6.9" text-anchor="end" fill="#1a1a1a">60 Mins</text>
<text class="yt" transform="translate(184.6,174.65) rotate(-90) scale(0.7,1)" font-size="8" text-anchor="middle" fill="#1a1a1a">Mean fluorescence</text>
<text class="yt" transform="translate(195,173.55) rotate(-90) scale(0.74,1)" font-size="8" text-anchor="middle" fill="#1a1a1a">intensity integrin <tspan font-size="9.5">α</tspan><tspan font-size="5" dy="1.8">IIb</tspan></text>
<rect x="293.8" y="161.9" width="5.6" height="2.8" fill="#a8002c"/>
<text x="303.4" y="165.4" font-size="6.0" fill="#1a1a1a">Vehicle</text>
<rect x="293.8" y="170.7" width="5.6" height="2.8" fill="#254a8c"/>
<text x="303.4" y="174.2" font-size="6.0" fill="#1a1a1a">Ibrutinib</text>
<rect x="293.8" y="179.5" width="5.6" height="2.8" fill="#69ad42"/>
<text x="303.4" y="183" font-size="6.0" fill="#1a1a1a">Zanubrutinib</text>
<line x1="216.6" y1="144.7" x2="216.6" y2="204.2" stroke="#111" stroke-width="1.1"/>
<line x1="216.05" y1="203.6" x2="290.8" y2="203.6" stroke="#111" stroke-width="1.35"/>
<line x1="213.6" y1="203.6" x2="216.6" y2="203.6" stroke="#111" stroke-width="0.9"/>
<text transform="translate(210.3,205.95) scale(0.92,1)" font-size="6.6" text-anchor="end" fill="#1a1a1a">0</text>
<line x1="213.6" y1="189.57" x2="216.6" y2="189.57" stroke="#111" stroke-width="0.9"/>
<text transform="translate(210.3,191.92) scale(0.92,1)" font-size="6.6" text-anchor="end" fill="#1a1a1a">50</text>
<line x1="213.6" y1="175.55" x2="216.6" y2="175.55" stroke="#111" stroke-width="0.9"/>
<text transform="translate(210.3,177.9) scale(0.92,1)" font-size="6.6" text-anchor="end" fill="#1a1a1a">100</text>
<line x1="213.6" y1="161.52" x2="216.6" y2="161.52" stroke="#111" stroke-width="0.9"/>
<text transform="translate(210.3,163.87) scale(0.92,1)" font-size="6.6" text-anchor="end" fill="#1a1a1a">150</text>
<line x1="213.6" y1="147.5" x2="216.6" y2="147.5" stroke="#111" stroke-width="0.9"/>
<text transform="translate(210.3,149.85) scale(0.92,1)" font-size="6.6" text-anchor="end" fill="#1a1a1a">200</text>
<line x1="223.3" y1="203.6" x2="223.3" y2="206.6" stroke="#111" stroke-width="0.9"/>
<line x1="238.35" y1="203.6" x2="238.35" y2="206.6" stroke="#111" stroke-width="0.9"/>
<line x1="253.4" y1="203.6" x2="253.4" y2="206.6" stroke="#111" stroke-width="0.9"/>
<line x1="268.45" y1="203.6" x2="268.45" y2="206.6" stroke="#111" stroke-width="0.9"/>
<line x1="283.5" y1="203.6" x2="283.5" y2="206.6" stroke="#111" stroke-width="0.9"/>
<text class="lt" transform="translate(352.2,134.6) scale(1.0,1)" font-size="11.2" font-weight="bold" fill="#000">F</text>
<line x1="391.25" y1="155.31" x2="391.25" y2="157.54" stroke="#111" stroke-width="0.8"/>
<line x1="390.25" y1="155.31" x2="392.25" y2="155.31" stroke="#111" stroke-width="1.1"/>
<rect x="389.65" y="157.79" width="3.2" height="45.51" fill="#a8002c" stroke="#900025" stroke-width="0.5"/>
<line x1="406.3" y1="179.03" x2="406.3" y2="180.14" stroke="#111" stroke-width="0.8"/>
<line x1="405.3" y1="179.03" x2="407.3" y2="179.03" stroke="#111" stroke-width="1.1"/>
<rect x="404.7" y="180.39" width="3.2" height="22.91" fill="#254a8c" stroke="#1f3f78" stroke-width="0.5"/>
<line x1="412" y1="158.66" x2="412" y2="160.75" stroke="#111" stroke-width="0.8"/>
<line x1="411" y1="158.66" x2="413" y2="158.66" stroke="#111" stroke-width="1.1"/>
<rect x="410.4" y="161" width="3.2" height="42.3" fill="#69ad42" stroke="#5a9438" stroke-width="0.5"/>
<rect x="400.3" y="175.33" width="1.4" height="1.4" fill="#222"/>
<rect x="402.55" y="175.33" width="1.4" height="1.4" fill="#222"/>
<rect x="404.8" y="175.33" width="1.4" height="1.4" fill="#222"/>
<rect x="407.05" y="175.33" width="1.4" height="1.4" fill="#222"/>
<line x1="421.35" y1="179.86" x2="421.35" y2="181.82" stroke="#111" stroke-width="0.8"/>
<line x1="420.35" y1="179.86" x2="422.35" y2="179.86" stroke="#111" stroke-width="1.1"/>
<rect x="419.75" y="182.07" width="3.2" height="21.23" fill="#254a8c" stroke="#1f3f78" stroke-width="0.5"/>
<line x1="427.05" y1="158.66" x2="427.05" y2="161.31" stroke="#111" stroke-width="0.8"/>
<line x1="426.05" y1="158.66" x2="428.05" y2="158.66" stroke="#111" stroke-width="1.1"/>
<rect x="425.45" y="161.56" width="3.2" height="41.74" fill="#69ad42" stroke="#5a9438" stroke-width="0.5"/>
<rect x="415.35" y="176.16" width="1.4" height="1.4" fill="#222"/>
<rect x="417.6" y="176.16" width="1.4" height="1.4" fill="#222"/>
<rect x="419.85" y="176.16" width="1.4" height="1.4" fill="#222"/>
<rect x="422.1" y="176.16" width="1.4" height="1.4" fill="#222"/>
<line x1="436.4" y1="185" x2="436.4" y2="186.28" stroke="#111" stroke-width="0.8"/>
<line x1="435.4" y1="185" x2="437.4" y2="185" stroke="#111" stroke-width="1.1"/>
<rect x="434.8" y="186.53" width="3.2" height="16.77" fill="#254a8c" stroke="#1f3f78" stroke-width="0.5"/>
<line x1="442.1" y1="156.43" x2="442.1" y2="160.19" stroke="#111" stroke-width="0.8"/>
<line x1="441.1" y1="156.43" x2="443.1" y2="156.43" stroke="#111" stroke-width="1.1"/>
<rect x="440.5" y="160.44" width="3.2" height="42.86" fill="#69ad42" stroke="#5a9438" stroke-width="0.5"/>
<rect x="430.4" y="181.3" width="1.4" height="1.4" fill="#222"/>
<rect x="432.65" y="181.3" width="1.4" height="1.4" fill="#222"/>
<rect x="434.9" y="181.3" width="1.4" height="1.4" fill="#222"/>
<rect x="437.15" y="181.3" width="1.4" height="1.4" fill="#222"/>
<line x1="451.45" y1="186.28" x2="451.45" y2="187.12" stroke="#111" stroke-width="0.8"/>
<line x1="450.45" y1="186.28" x2="452.45" y2="186.28" stroke="#111" stroke-width="1.1"/>
<rect x="449.85" y="187.37" width="3.2" height="15.93" fill="#254a8c" stroke="#1f3f78" stroke-width="0.5"/>
<line x1="457.15" y1="157.54" x2="457.15" y2="160.89" stroke="#111" stroke-width="0.8"/>
<line x1="456.15" y1="157.54" x2="458.15" y2="157.54" stroke="#111" stroke-width="1.1"/>
<rect x="455.55" y="161.14" width="3.2" height="42.16" fill="#69ad42" stroke="#5a9438" stroke-width="0.5"/>
<rect x="445.45" y="182.58" width="1.4" height="1.4" fill="#222"/>
<rect x="447.7" y="182.58" width="1.4" height="1.4" fill="#222"/>
<rect x="449.95" y="182.58" width="1.4" height="1.4" fill="#222"/>
<rect x="452.2" y="182.58" width="1.4" height="1.4" fill="#222"/>
<text transform="translate(396.7,213.2) rotate(-45) scale(0.85,1)" font-size="6.9" text-anchor="end" fill="#1a1a1a">Vehicle</text>
<text transform="translate(411.75,213.2) rotate(-45) scale(0.85,1)" font-size="6.9" text-anchor="end" fill="#1a1a1a">5 Mins</text>
<text transform="translate(426.8,213.2) rotate(-45) scale(0.85,1)" font-size="6.9" text-anchor="end" fill="#1a1a1a">10 Mins</text>
<text transform="translate(441.85,213.2) rotate(-45) scale(0.85,1)" font-size="6.9" text-anchor="end" fill="#1a1a1a">30 Mins</text>
<text transform="translate(456.9,213.2) rotate(-45) scale(0.85,1)" font-size="6.9" text-anchor="end" fill="#1a1a1a">60 Mins</text>
<text class="yt" transform="translate(351.7,174.75) rotate(-90) scale(0.7,1)" font-size="8" text-anchor="middle" fill="#1a1a1a">Mean fluorescence</text>
<text class="yt" transform="translate(361.8,173.65) rotate(-90) scale(0.73,1)" font-size="8" text-anchor="middle" fill="#1a1a1a">intensity integrin <tspan font-size="9">β</tspan><tspan font-size="5" dy="1.8">3</tspan></text>
<rect x="464.2" y="161.9" width="5.6" height="2.8" fill="#a8002c"/>
<text x="473.8" y="165.4" font-size="6.0" fill="#1a1a1a">Vehicle</text>
<rect x="464.2" y="170.7" width="5.6" height="2.8" fill="#254a8c"/>
<text x="473.8" y="174.2" font-size="6.0" fill="#1a1a1a">Ibrutinib</text>
<rect x="464.2" y="179.5" width="5.6" height="2.8" fill="#69ad42"/>
<text x="473.8" y="183" font-size="6.0" fill="#1a1a1a">Zanubrutinib</text>
<line x1="387.4" y1="145.2" x2="387.4" y2="203.9" stroke="#111" stroke-width="1.1"/>
<line x1="386.85" y1="203.3" x2="461.6" y2="203.3" stroke="#111" stroke-width="1.35"/>
<line x1="384.4" y1="203.3" x2="387.4" y2="203.3" stroke="#111" stroke-width="0.9"/>
<text transform="translate(381.1,205.65) scale(0.92,1)" font-size="6.6" text-anchor="end" fill="#1a1a1a">0</text>
<line x1="384.4" y1="189.35" x2="387.4" y2="189.35" stroke="#111" stroke-width="0.9"/>
<text transform="translate(381.1,191.7) scale(0.92,1)" font-size="6.6" text-anchor="end" fill="#1a1a1a">50</text>
<line x1="384.4" y1="175.4" x2="387.4" y2="175.4" stroke="#111" stroke-width="0.9"/>
<text transform="translate(381.1,177.75) scale(0.92,1)" font-size="6.6" text-anchor="end" fill="#1a1a1a">100</text>
<line x1="384.4" y1="161.45" x2="387.4" y2="161.45" stroke="#111" stroke-width="0.9"/>
<text transform="translate(381.1,163.8) scale(0.92,1)" font-size="6.6" text-anchor="end" fill="#1a1a1a">150</text>
<line x1="384.4" y1="147.5" x2="387.4" y2="147.5" stroke="#111" stroke-width="0.9"/>
<text transform="translate(381.1,149.85) scale(0.92,1)" font-size="6.6" text-anchor="end" fill="#1a1a1a">200</text>
<line x1="394.1" y1="203.3" x2="394.1" y2="206.3" stroke="#111" stroke-width="0.9"/>
<line x1="409.15" y1="203.3" x2="409.15" y2="206.3" stroke="#111" stroke-width="0.9"/>
<line x1="424.2" y1="203.3" x2="424.2" y2="206.3" stroke="#111" stroke-width="0.9"/>
<line x1="439.25" y1="203.3" x2="439.25" y2="206.3" stroke="#111" stroke-width="0.9"/>
<line x1="454.3" y1="203.3" x2="454.3" y2="206.3" stroke="#111" stroke-width="0.9"/>
<text class="lt" transform="translate(8.8,253.6) scale(1.0,1)" font-size="11.2" font-weight="bold" fill="#000">G</text>
<line x1="51.35" y1="278.23" x2="51.35" y2="278.94" stroke="#111" stroke-width="0.8"/>
<line x1="50.35" y1="278.23" x2="52.35" y2="278.23" stroke="#111" stroke-width="1.1"/>
<rect x="49.75" y="279.19" width="3.2" height="39.51" fill="#a8002c" stroke="#900025" stroke-width="0.5"/>
<line x1="66.4" y1="279.22" x2="66.4" y2="281.99" stroke="#111" stroke-width="0.8"/>
<line x1="65.4" y1="279.22" x2="67.4" y2="279.22" stroke="#111" stroke-width="1.1"/>
<rect x="64.8" y="282.24" width="3.2" height="36.46" fill="#254a8c" stroke="#1f3f78" stroke-width="0.5"/>
<line x1="72.1" y1="277.16" x2="72.1" y2="277.88" stroke="#111" stroke-width="0.8"/>
<line x1="71.1" y1="277.16" x2="73.1" y2="277.16" stroke="#111" stroke-width="1.1"/>
<rect x="70.5" y="278.12" width="3.2" height="40.57" fill="#69ad42" stroke="#5a9438" stroke-width="0.5"/>
<line x1="81.45" y1="277.52" x2="81.45" y2="281.99" stroke="#111" stroke-width="0.8"/>
<line x1="80.45" y1="277.52" x2="82.45" y2="277.52" stroke="#111" stroke-width="1.1"/>
<rect x="79.85" y="282.24" width="3.2" height="36.46" fill="#254a8c" stroke="#1f3f78" stroke-width="0.5"/>
<line x1="87.15" y1="277.52" x2="87.15" y2="279.22" stroke="#111" stroke-width="0.8"/>
<line x1="86.15" y1="277.52" x2="88.15" y2="277.52" stroke="#111" stroke-width="1.1"/>
<rect x="85.55" y="279.47" width="3.2" height="39.23" fill="#69ad42" stroke="#5a9438" stroke-width="0.5"/>
<line x1="96.5" y1="275.39" x2="96.5" y2="278.73" stroke="#111" stroke-width="0.8"/>
<line x1="95.5" y1="275.39" x2="97.5" y2="275.39" stroke="#111" stroke-width="1.1"/>
<rect x="94.9" y="278.98" width="3.2" height="39.72" fill="#254a8c" stroke="#1f3f78" stroke-width="0.5"/>
<line x1="102.2" y1="276.1" x2="102.2" y2="278.23" stroke="#111" stroke-width="0.8"/>
<line x1="101.2" y1="276.1" x2="103.2" y2="276.1" stroke="#111" stroke-width="1.1"/>
<rect x="100.6" y="278.48" width="3.2" height="40.22" fill="#69ad42" stroke="#5a9438" stroke-width="0.5"/>
<line x1="111.55" y1="276.1" x2="111.55" y2="278.94" stroke="#111" stroke-width="0.8"/>
<line x1="110.55" y1="276.1" x2="112.55" y2="276.1" stroke="#111" stroke-width="1.1"/>
<rect x="109.95" y="279.19" width="3.2" height="39.51" fill="#254a8c" stroke="#1f3f78" stroke-width="0.5"/>
<line x1="117.25" y1="277.52" x2="117.25" y2="278.94" stroke="#111" stroke-width="0.8"/>
<line x1="116.25" y1="277.52" x2="118.25" y2="277.52" stroke="#111" stroke-width="1.1"/>
<rect x="115.65" y="279.19" width="3.2" height="39.51" fill="#69ad42" stroke="#5a9438" stroke-width="0.5"/>
<text transform="translate(56.8,328.6) rotate(-45) scale(0.85,1)" font-size="6.9" text-anchor="end" fill="#1a1a1a">Vehicle</text>
<text transform="translate(71.85,328.6) rotate(-45) scale(0.85,1)" font-size="6.9" text-anchor="end" fill="#1a1a1a">5 Mins</text>
<text transform="translate(86.9,328.6) rotate(-45) scale(0.85,1)" font-size="6.9" text-anchor="end" fill="#1a1a1a">10 Mins</text>
<text transform="translate(101.95,328.6) rotate(-45) scale(0.85,1)" font-size="6.9" text-anchor="end" fill="#1a1a1a">30 Mins</text>
<text transform="translate(117,328.6) rotate(-45) scale(0.85,1)" font-size="6.9" text-anchor="end" fill="#1a1a1a">60 Mins</text>
<text class="yt" transform="translate(18.6,289.5) rotate(-90) scale(0.7,1)" font-size="8" text-anchor="middle" fill="#1a1a1a">Mean fluorescence</text>
<text class="yt" transform="translate(28.3,288.4) rotate(-90) scale(0.7,1)" font-size="8" text-anchor="middle" fill="#1a1a1a">intensity GPVI</text>
<rect x="124.6" y="278.5" width="5.6" height="2.8" fill="#a8002c"/>
<text x="134.2" y="282" font-size="6.0" fill="#1a1a1a">Vehicle</text>
<rect x="124.6" y="287.3" width="5.6" height="2.8" fill="#254a8c"/>
<text x="134.2" y="290.8" font-size="6.0" fill="#1a1a1a">Ibrutinib</text>
<rect x="124.6" y="296.1" width="5.6" height="2.8" fill="#69ad42"/>
<text x="134.2" y="299.6" font-size="6.0" fill="#1a1a1a">Zanubrutinib</text>
<line x1="47.5" y1="259.3" x2="47.5" y2="319.3" stroke="#111" stroke-width="1.1"/>
<line x1="46.95" y1="318.7" x2="121.7" y2="318.7" stroke="#111" stroke-width="1.35"/>
<line x1="44.5" y1="318.7" x2="47.5" y2="318.7" stroke="#111" stroke-width="0.9"/>
<text transform="translate(41.2,321.05) scale(0.92,1)" font-size="6.6" text-anchor="end" fill="#1a1a1a">0</text>
<line x1="44.5" y1="304.5" x2="47.5" y2="304.5" stroke="#111" stroke-width="0.9"/>
<text transform="translate(41.2,306.85) scale(0.92,1)" font-size="6.6" text-anchor="end" fill="#1a1a1a">20</text>
<line x1="44.5" y1="290.3" x2="47.5" y2="290.3" stroke="#111" stroke-width="0.9"/>
<text transform="translate(41.2,292.65) scale(0.92,1)" font-size="6.6" text-anchor="end" fill="#1a1a1a">40</text>
<line x1="44.5" y1="276.1" x2="47.5" y2="276.1" stroke="#111" stroke-width="0.9"/>
<text transform="translate(41.2,278.45) scale(0.92,1)" font-size="6.6" text-anchor="end" fill="#1a1a1a">60</text>
<line x1="44.5" y1="261.9" x2="47.5" y2="261.9" stroke="#111" stroke-width="0.9"/>
<text transform="translate(41.2,264.25) scale(0.92,1)" font-size="6.6" text-anchor="end" fill="#1a1a1a">80</text>
<line x1="54.2" y1="318.7" x2="54.2" y2="321.7" stroke="#111" stroke-width="0.9"/>
<line x1="69.25" y1="318.7" x2="69.25" y2="321.7" stroke="#111" stroke-width="0.9"/>
<line x1="84.3" y1="318.7" x2="84.3" y2="321.7" stroke="#111" stroke-width="0.9"/>
<line x1="99.35" y1="318.7" x2="99.35" y2="321.7" stroke="#111" stroke-width="0.9"/>
<line x1="114.4" y1="318.7" x2="114.4" y2="321.7" stroke="#111" stroke-width="0.9"/>
<text class="lt" transform="translate(177.8,253.2) scale(1.0,1)" font-size="11.2" font-weight="bold" fill="#000">H</text>
<line x1="221.85" y1="273.34" x2="221.85" y2="275.02" stroke="#111" stroke-width="0.8"/>
<line x1="220.72" y1="273.34" x2="222.98" y2="273.34" stroke="#111" stroke-width="1.1"/>
<rect x="220" y="275.27" width="3.7" height="43.43" fill="#a8002c" stroke="#900025" stroke-width="0.5"/>
<line x1="241.35" y1="311.98" x2="241.35" y2="313.66" stroke="#111" stroke-width="0.8"/>
<line x1="240.22" y1="311.98" x2="242.48" y2="311.98" stroke="#111" stroke-width="1.1"/>
<rect x="239.5" y="313.91" width="3.7" height="4.79" fill="#254a8c" stroke="#1f3f78" stroke-width="0.5"/>
<line x1="248.65" y1="276.36" x2="248.65" y2="276.7" stroke="#111" stroke-width="0.8"/>
<line x1="247.52" y1="276.36" x2="249.78" y2="276.36" stroke="#111" stroke-width="1.1"/>
<rect x="246.8" y="276.95" width="3.7" height="41.75" fill="#69ad42" stroke="#5a9438" stroke-width="0.5"/>
<rect x="235.35" y="308.28" width="1.4" height="1.4" fill="#222"/>
<rect x="237.6" y="308.28" width="1.4" height="1.4" fill="#222"/>
<rect x="239.85" y="308.28" width="1.4" height="1.4" fill="#222"/>
<rect x="242.1" y="308.28" width="1.4" height="1.4" fill="#222"/>
<line x1="260.85" y1="314.33" x2="260.85" y2="315.34" stroke="#111" stroke-width="0.8"/>
<line x1="259.72" y1="314.33" x2="261.98" y2="314.33" stroke="#111" stroke-width="1.1"/>
<rect x="259" y="315.59" width="3.7" height="3.11" fill="#254a8c" stroke="#1f3f78" stroke-width="0.5"/>
<line x1="268.15" y1="275.02" x2="268.15" y2="276.36" stroke="#111" stroke-width="0.8"/>
<line x1="267.02" y1="275.02" x2="269.28" y2="275.02" stroke="#111" stroke-width="1.1"/>
<rect x="266.3" y="276.61" width="3.7" height="42.09" fill="#69ad42" stroke="#5a9438" stroke-width="0.5"/>
<rect x="254.85" y="310.63" width="1.4" height="1.4" fill="#222"/>
<rect x="257.1" y="310.63" width="1.4" height="1.4" fill="#222"/>
<rect x="259.35" y="310.63" width="1.4" height="1.4" fill="#222"/>
<rect x="261.6" y="310.63" width="1.4" height="1.4" fill="#222"/>
<line x1="280.35" y1="316.68" x2="280.35" y2="317.02" stroke="#111" stroke-width="0.8"/>
<line x1="279.22" y1="316.68" x2="281.48" y2="316.68" stroke="#111" stroke-width="1.1"/>
<rect x="278.5" y="317.27" width="3.7" height="1.43" fill="#254a8c" stroke="#1f3f78" stroke-width="0.5"/>
<line x1="287.65" y1="275.36" x2="287.65" y2="276.7" stroke="#111" stroke-width="0.8"/>
<line x1="286.52" y1="275.36" x2="288.78" y2="275.36" stroke="#111" stroke-width="1.1"/>
<rect x="285.8" y="276.95" width="3.7" height="41.75" fill="#69ad42" stroke="#5a9438" stroke-width="0.5"/>
<rect x="274.35" y="312.98" width="1.4" height="1.4" fill="#222"/>
<rect x="276.6" y="312.98" width="1.4" height="1.4" fill="#222"/>
<rect x="278.85" y="312.98" width="1.4" height="1.4" fill="#222"/>
<rect x="281.1" y="312.98" width="1.4" height="1.4" fill="#222"/>
<text transform="translate(228.1,328.6) rotate(-45) scale(0.85,1)" font-size="6.9" text-anchor="end" fill="#1a1a1a">Vehicle</text>
<text transform="translate(247.6,328.6) rotate(-45) scale(0.85,1)" font-size="6.9" text-anchor="end" fill="#1a1a1a">0.1 μM</text>
<text transform="translate(267.1,328.6) rotate(-45) scale(0.85,1)" font-size="6.9" text-anchor="end" fill="#1a1a1a">0.5 μM</text>
<text transform="translate(286.6,328.6) rotate(-45) scale(0.85,1)" font-size="6.9" text-anchor="end" fill="#1a1a1a">1.0 μM</text>
<text class="yt" transform="translate(184.3,291.95) rotate(-90) scale(0.7,1)" font-size="8" text-anchor="middle" fill="#1a1a1a">Mean fluorescence</text>
<text class="yt" transform="translate(194.1,291.15) rotate(-90) scale(0.7,1)" font-size="8" text-anchor="middle" fill="#1a1a1a">intensity GPIX</text>
<rect x="294.2" y="278.5" width="5.6" height="2.8" fill="#a8002c"/>
<text x="303.8" y="282" font-size="6.0" fill="#1a1a1a">Vehicle</text>
<rect x="294.2" y="287.3" width="5.6" height="2.8" fill="#254a8c"/>
<text x="303.8" y="290.8" font-size="6.0" fill="#1a1a1a">Ibrutinib</text>
<rect x="294.2" y="296.1" width="5.6" height="2.8" fill="#69ad42"/>
<text x="303.8" y="299.6" font-size="6.0" fill="#1a1a1a">Zanubrutinib</text>
<line x1="216.6" y1="266" x2="216.6" y2="319.3" stroke="#111" stroke-width="1.1"/>
<line x1="216.05" y1="318.7" x2="290.6" y2="318.7" stroke="#111" stroke-width="1.35"/>
<line x1="213.6" y1="318.7" x2="216.6" y2="318.7" stroke="#111" stroke-width="0.9"/>
<text transform="translate(210.3,321.05) scale(0.92,1)" font-size="6.6" text-anchor="end" fill="#1a1a1a">0</text>
<line x1="213.6" y1="301.9" x2="216.6" y2="301.9" stroke="#111" stroke-width="0.9"/>
<text transform="translate(210.3,304.25) scale(0.92,1)" font-size="6.6" text-anchor="end" fill="#1a1a1a">50</text>
<line x1="213.6" y1="285.1" x2="216.6" y2="285.1" stroke="#111" stroke-width="0.9"/>
<text transform="translate(210.3,287.45) scale(0.92,1)" font-size="6.6" text-anchor="end" fill="#1a1a1a">100</text>
<line x1="213.6" y1="268.3" x2="216.6" y2="268.3" stroke="#111" stroke-width="0.9"/>
<text transform="translate(210.3,270.65) scale(0.92,1)" font-size="6.6" text-anchor="end" fill="#1a1a1a">150</text>
<line x1="225.5" y1="318.7" x2="225.5" y2="321.7" stroke="#111" stroke-width="0.9"/>
<line x1="245" y1="318.7" x2="245" y2="321.7" stroke="#111" stroke-width="0.9"/>
<line x1="264.5" y1="318.7" x2="264.5" y2="321.7" stroke="#111" stroke-width="0.9"/>
<line x1="284" y1="318.7" x2="284" y2="321.7" stroke="#111" stroke-width="0.9"/>
<text class="lt" transform="translate(354.1,253.5) scale(1.0,1)" font-size="11.2" font-weight="bold" fill="#000">I</text>
<line x1="392.1" y1="276.77" x2="392.1" y2="279.66" stroke="#111" stroke-width="0.8"/>
<line x1="390.97" y1="276.77" x2="393.23" y2="276.77" stroke="#111" stroke-width="1.1"/>
<rect x="390.25" y="279.91" width="3.7" height="38.89" fill="#a8002c" stroke="#900025" stroke-width="0.5"/>
<line x1="410.85" y1="309.55" x2="410.85" y2="309.74" stroke="#111" stroke-width="0.8"/>
<line x1="409.72" y1="309.55" x2="411.98" y2="309.55" stroke="#111" stroke-width="1.1"/>
<rect x="409" y="309.99" width="3.7" height="8.81" fill="#254a8c" stroke="#1f3f78" stroke-width="0.5"/>
<line x1="417.65" y1="275.69" x2="417.65" y2="277.73" stroke="#111" stroke-width="0.8"/>
<line x1="416.52" y1="275.69" x2="418.78" y2="275.69" stroke="#111" stroke-width="1.1"/>
<rect x="415.8" y="277.98" width="3.7" height="40.82" fill="#69ad42" stroke="#5a9438" stroke-width="0.5"/>
<rect x="404.85" y="305.85" width="1.4" height="1.4" fill="#222"/>
<rect x="407.1" y="305.85" width="1.4" height="1.4" fill="#222"/>
<rect x="409.35" y="305.85" width="1.4" height="1.4" fill="#222"/>
<rect x="411.6" y="305.85" width="1.4" height="1.4" fill="#222"/>
<line x1="429.6" y1="311.47" x2="429.6" y2="313.31" stroke="#111" stroke-width="0.8"/>
<line x1="428.47" y1="311.47" x2="430.73" y2="311.47" stroke="#111" stroke-width="1.1"/>
<rect x="427.75" y="313.56" width="3.7" height="5.24" fill="#254a8c" stroke="#1f3f78" stroke-width="0.5"/>
<line x1="436.4" y1="277.73" x2="436.4" y2="280.63" stroke="#111" stroke-width="0.8"/>
<line x1="435.27" y1="277.73" x2="437.53" y2="277.73" stroke="#111" stroke-width="1.1"/>
<rect x="434.55" y="280.88" width="3.7" height="37.92" fill="#69ad42" stroke="#5a9438" stroke-width="0.5"/>
<rect x="423.6" y="307.77" width="1.4" height="1.4" fill="#222"/>
<rect x="425.85" y="307.77" width="1.4" height="1.4" fill="#222"/>
<rect x="428.1" y="307.77" width="1.4" height="1.4" fill="#222"/>
<rect x="430.35" y="307.77" width="1.4" height="1.4" fill="#222"/>
<line x1="448.35" y1="315.6" x2="448.35" y2="316.39" stroke="#111" stroke-width="0.8"/>
<line x1="447.22" y1="315.6" x2="449.48" y2="315.6" stroke="#111" stroke-width="1.1"/>
<rect x="446.5" y="316.64" width="3.7" height="2.16" fill="#254a8c" stroke="#1f3f78" stroke-width="0.5"/>
<line x1="455.15" y1="276.77" x2="455.15" y2="280.63" stroke="#111" stroke-width="0.8"/>
<line x1="454.02" y1="276.77" x2="456.28" y2="276.77" stroke="#111" stroke-width="1.1"/>
<rect x="453.3" y="280.88" width="3.7" height="37.92" fill="#69ad42" stroke="#5a9438" stroke-width="0.5"/>
<rect x="442.35" y="311.9" width="1.4" height="1.4" fill="#222"/>
<rect x="444.6" y="311.9" width="1.4" height="1.4" fill="#222"/>
<rect x="446.85" y="311.9" width="1.4" height="1.4" fill="#222"/>
<rect x="449.1" y="311.9" width="1.4" height="1.4" fill="#222"/>
<text transform="translate(398.1,328.7) rotate(-45) scale(0.85,1)" font-size="6.9" text-anchor="end" fill="#1a1a1a">Vehicle</text>
<text transform="translate(416.85,328.7) rotate(-45) scale(0.85,1)" font-size="6.9" text-anchor="end" fill="#1a1a1a">0.1 μM</text>
<text transform="translate(435.6,328.7) rotate(-45) scale(0.85,1)" font-size="6.9" text-anchor="end" fill="#1a1a1a">0.5 μM</text>
<text transform="translate(454.35,328.7) rotate(-45) scale(0.85,1)" font-size="6.9" text-anchor="end" fill="#1a1a1a">1.0 μM</text>
<text class="yt" transform="translate(355,294.2) rotate(-90) scale(0.7,1)" font-size="8" text-anchor="middle" fill="#1a1a1a">Mean fluorescence</text>
<text class="yt" transform="translate(364.5,294) rotate(-90) scale(0.73,1)" font-size="8" text-anchor="middle" fill="#1a1a1a">intensity GPIb<tspan font-size="9.5">α</tspan></text>
<rect x="464.2" y="278.5" width="5.6" height="2.8" fill="#a8002c"/>
<text x="473.8" y="282" font-size="6.0" fill="#1a1a1a">Vehicle</text>
<rect x="464.2" y="287.3" width="5.6" height="2.8" fill="#254a8c"/>
<text x="473.8" y="290.8" font-size="6.0" fill="#1a1a1a">Ibrutinib</text>
<rect x="464.2" y="296.1" width="5.6" height="2.8" fill="#69ad42"/>
<text x="473.8" y="299.6" font-size="6.0" fill="#1a1a1a">Zanubrutinib</text>
<line x1="387.4" y1="267.4" x2="387.4" y2="319.4" stroke="#111" stroke-width="1.1"/>
<line x1="386.85" y1="318.8" x2="461.4" y2="318.8" stroke="#111" stroke-width="1.35"/>
<line x1="384.4" y1="318.8" x2="387.4" y2="318.8" stroke="#111" stroke-width="0.9"/>
<text transform="translate(381.1,321.15) scale(0.92,1)" font-size="6.6" text-anchor="end" fill="#1a1a1a">0</text>
<line x1="384.4" y1="309.16" x2="387.4" y2="309.16" stroke="#111" stroke-width="0.9"/>
<text transform="translate(381.1,311.51) scale(0.92,1)" font-size="6.6" text-anchor="end" fill="#1a1a1a">50</text>
<line x1="384.4" y1="299.52" x2="387.4" y2="299.52" stroke="#111" stroke-width="0.9"/>
<text transform="translate(381.1,301.87) scale(0.92,1)" font-size="6.6" text-anchor="end" fill="#1a1a1a">100</text>
<line x1="384.4" y1="289.88" x2="387.4" y2="289.88" stroke="#111" stroke-width="0.9"/>
<text transform="translate(381.1,292.23) scale(0.92,1)" font-size="6.6" text-anchor="end" fill="#1a1a1a">150</text>
<line x1="384.4" y1="280.24" x2="387.4" y2="280.24" stroke="#111" stroke-width="0.9"/>
<text transform="translate(381.1,282.59) scale(0.92,1)" font-size="6.6" text-anchor="end" fill="#1a1a1a">200</text>
<line x1="384.4" y1="270.6" x2="387.4" y2="270.6" stroke="#111" stroke-width="0.9"/>
<text transform="translate(381.1,272.95) scale(0.92,1)" font-size="6.6" text-anchor="end" fill="#1a1a1a">250</text>
<line x1="395.5" y1="318.8" x2="395.5" y2="321.8" stroke="#111" stroke-width="0.9"/>
<line x1="414.25" y1="318.8" x2="414.25" y2="321.8" stroke="#111" stroke-width="0.9"/>
<line x1="433" y1="318.8" x2="433" y2="321.8" stroke="#111" stroke-width="0.9"/>
<line x1="451.75" y1="318.8" x2="451.75" y2="321.8" stroke="#111" stroke-width="0.9"/>
<text class="lt" transform="translate(10.6,367.6) scale(0.68,1)" font-size="11.2" font-weight="bold" fill="#000">J</text>
<line x1="52.15" y1="391.66" x2="52.15" y2="393.5" stroke="#111" stroke-width="0.8"/>
<line x1="51.04" y1="391.66" x2="53.26" y2="391.66" stroke="#111" stroke-width="1.1"/>
<rect x="50.35" y="393.75" width="3.6" height="35.15" fill="#a8002c" stroke="#900025" stroke-width="0.5"/>
<line x1="71.15" y1="428.16" x2="71.15" y2="428.41" stroke="#111" stroke-width="0.8"/>
<line x1="70.04" y1="428.16" x2="72.26" y2="428.16" stroke="#111" stroke-width="1.1"/>
<rect x="69.35" y="428.66" width="3.6" height="0.3" fill="#254a8c" stroke="#1f3f78" stroke-width="0.5"/>
<line x1="78.15" y1="391.66" x2="78.15" y2="394.6" stroke="#111" stroke-width="0.8"/>
<line x1="77.04" y1="391.66" x2="79.26" y2="391.66" stroke="#111" stroke-width="1.1"/>
<rect x="76.35" y="394.85" width="3.6" height="34.05" fill="#69ad42" stroke="#5a9438" stroke-width="0.5"/>
<rect x="65.15" y="424.46" width="1.4" height="1.4" fill="#222"/>
<rect x="67.4" y="424.46" width="1.4" height="1.4" fill="#222"/>
<rect x="69.65" y="424.46" width="1.4" height="1.4" fill="#222"/>
<rect x="71.9" y="424.46" width="1.4" height="1.4" fill="#222"/>
<line x1="90.15" y1="428.29" x2="90.15" y2="428.53" stroke="#111" stroke-width="0.8"/>
<line x1="89.04" y1="428.29" x2="91.26" y2="428.29" stroke="#111" stroke-width="1.1"/>
<rect x="88.35" y="428.78" width="3.6" height="0.3" fill="#254a8c" stroke="#1f3f78" stroke-width="0.5"/>
<line x1="97.15" y1="391.41" x2="97.15" y2="394.6" stroke="#111" stroke-width="0.8"/>
<line x1="96.04" y1="391.41" x2="98.26" y2="391.41" stroke="#111" stroke-width="1.1"/>
<rect x="95.35" y="394.85" width="3.6" height="34.05" fill="#69ad42" stroke="#5a9438" stroke-width="0.5"/>
<rect x="84.15" y="424.59" width="1.4" height="1.4" fill="#222"/>
<rect x="86.4" y="424.59" width="1.4" height="1.4" fill="#222"/>
<rect x="88.65" y="424.59" width="1.4" height="1.4" fill="#222"/>
<rect x="90.9" y="424.59" width="1.4" height="1.4" fill="#222"/>
<line x1="109.15" y1="428.29" x2="109.15" y2="428.53" stroke="#111" stroke-width="0.8"/>
<line x1="108.04" y1="428.29" x2="110.26" y2="428.29" stroke="#111" stroke-width="1.1"/>
<rect x="107.35" y="428.78" width="3.6" height="0.3" fill="#254a8c" stroke="#1f3f78" stroke-width="0.5"/>
<line x1="116.15" y1="390.92" x2="116.15" y2="393.01" stroke="#111" stroke-width="0.8"/>
<line x1="115.04" y1="390.92" x2="117.26" y2="390.92" stroke="#111" stroke-width="1.1"/>
<rect x="114.35" y="393.26" width="3.6" height="35.64" fill="#69ad42" stroke="#5a9438" stroke-width="0.5"/>
<rect x="103.15" y="424.59" width="1.4" height="1.4" fill="#222"/>
<rect x="105.4" y="424.59" width="1.4" height="1.4" fill="#222"/>
<rect x="107.65" y="424.59" width="1.4" height="1.4" fill="#222"/>
<rect x="109.9" y="424.59" width="1.4" height="1.4" fill="#222"/>
<text transform="translate(58.25,438.8) rotate(-45) scale(0.85,1)" font-size="6.9" text-anchor="end" fill="#1a1a1a">Vehicle</text>
<text transform="translate(77.25,438.8) rotate(-45) scale(0.85,1)" font-size="6.9" text-anchor="end" fill="#1a1a1a">0.1 μM</text>
<text transform="translate(96.25,438.8) rotate(-45) scale(0.85,1)" font-size="6.9" text-anchor="end" fill="#1a1a1a">0.5 μM</text>
<text transform="translate(115.25,438.8) rotate(-45) scale(0.85,1)" font-size="6.9" text-anchor="end" fill="#1a1a1a">1.0 μM</text>
<text class="yt" transform="translate(12.2,403.65) rotate(-90) scale(0.7,1)" font-size="8" text-anchor="middle" fill="#1a1a1a">Mean fluorescence</text>
<text class="yt" transform="translate(22.1,402.55) rotate(-90) scale(0.76,1)" font-size="8" text-anchor="middle" fill="#1a1a1a">intensity integrin <tspan font-size="9.5">α</tspan><tspan font-size="5" dy="1.8">IIb</tspan><tspan font-size="9" dy="-1.8">β</tspan><tspan font-size="5" dy="1.8">3</tspan></text>
<rect x="124.6" y="392.9" width="5.6" height="2.8" fill="#a8002c"/>
<text x="134.2" y="396.4" font-size="6.0" fill="#1a1a1a">Vehicle</text>
<rect x="124.6" y="401.7" width="5.6" height="2.8" fill="#254a8c"/>
<text x="134.2" y="405.2" font-size="6.0" fill="#1a1a1a">Ibrutinib</text>
<rect x="124.6" y="410.5" width="5.6" height="2.8" fill="#69ad42"/>
<text x="134.2" y="414" font-size="6.0" fill="#1a1a1a">Zanubrutinib</text>
<line x1="47.6" y1="377.4" x2="47.6" y2="429.5" stroke="#111" stroke-width="1.1"/>
<line x1="47.05" y1="428.9" x2="121.6" y2="428.9" stroke="#111" stroke-width="1.35"/>
<line x1="44.6" y1="428.9" x2="47.6" y2="428.9" stroke="#111" stroke-width="0.9"/>
<text transform="translate(41.3,431.25) scale(0.92,1)" font-size="6.6" text-anchor="end" fill="#1a1a1a">0</text>
<line x1="44.6" y1="416.65" x2="47.6" y2="416.65" stroke="#111" stroke-width="0.9"/>
<text transform="translate(41.3,419) scale(0.92,1)" font-size="6.6" text-anchor="end" fill="#1a1a1a">50</text>
<line x1="44.6" y1="404.4" x2="47.6" y2="404.4" stroke="#111" stroke-width="0.9"/>
<text transform="translate(41.3,406.75) scale(0.92,1)" font-size="6.6" text-anchor="end" fill="#1a1a1a">100</text>
<line x1="44.6" y1="392.15" x2="47.6" y2="392.15" stroke="#111" stroke-width="0.9"/>
<text transform="translate(41.3,394.5) scale(0.92,1)" font-size="6.6" text-anchor="end" fill="#1a1a1a">150</text>
<line x1="44.6" y1="379.9" x2="47.6" y2="379.9" stroke="#111" stroke-width="0.9"/>
<text transform="translate(41.3,382.25) scale(0.92,1)" font-size="6.6" text-anchor="end" fill="#1a1a1a">200</text>
<line x1="55.65" y1="428.9" x2="55.65" y2="431.9" stroke="#111" stroke-width="0.9"/>
<line x1="74.65" y1="428.9" x2="74.65" y2="431.9" stroke="#111" stroke-width="0.9"/>
<line x1="93.65" y1="428.9" x2="93.65" y2="431.9" stroke="#111" stroke-width="0.9"/>
<line x1="112.65" y1="428.9" x2="112.65" y2="431.9" stroke="#111" stroke-width="0.9"/>
<text class="lt" transform="translate(177.8,368.2) scale(1.0,1)" font-size="11.2" font-weight="bold" fill="#000">K</text>
<line x1="221.2" y1="384.35" x2="221.2" y2="388.79" stroke="#111" stroke-width="0.8"/>
<line x1="219.98" y1="384.35" x2="222.41" y2="384.35" stroke="#111" stroke-width="1.1"/>
<rect x="219.2" y="389.04" width="4" height="39.76" fill="#a8002c" stroke="#900025" stroke-width="0.5"/>
<line x1="240.25" y1="385.5" x2="240.25" y2="388.79" stroke="#111" stroke-width="0.8"/>
<line x1="239.03" y1="385.5" x2="241.47" y2="385.5" stroke="#111" stroke-width="1.1"/>
<rect x="238.25" y="389.04" width="4" height="39.76" fill="#254a8c" stroke="#1f3f78" stroke-width="0.5"/>
<line x1="247.25" y1="383.4" x2="247.25" y2="388.79" stroke="#111" stroke-width="0.8"/>
<line x1="246.03" y1="383.4" x2="248.47" y2="383.4" stroke="#111" stroke-width="1.1"/>
<rect x="245.25" y="389.04" width="4" height="39.76" fill="#69ad42" stroke="#5a9438" stroke-width="0.5"/>
<line x1="259.3" y1="382.25" x2="259.3" y2="385.5" stroke="#111" stroke-width="0.8"/>
<line x1="258.09" y1="382.25" x2="260.51" y2="382.25" stroke="#111" stroke-width="1.1"/>
<rect x="257.3" y="385.75" width="4" height="43.05" fill="#254a8c" stroke="#1f3f78" stroke-width="0.5"/>
<line x1="266.3" y1="384.71" x2="266.3" y2="387.48" stroke="#111" stroke-width="0.8"/>
<line x1="265.09" y1="384.71" x2="267.51" y2="384.71" stroke="#111" stroke-width="1.1"/>
<rect x="264.3" y="387.73" width="4" height="41.07" fill="#69ad42" stroke="#5a9438" stroke-width="0.5"/>
<line x1="278.35" y1="385.5" x2="278.35" y2="389.05" stroke="#111" stroke-width="0.8"/>
<line x1="277.14" y1="385.5" x2="279.56" y2="385.5" stroke="#111" stroke-width="1.1"/>
<rect x="276.35" y="389.3" width="4" height="39.5" fill="#254a8c" stroke="#1f3f78" stroke-width="0.5"/>
<line x1="285.35" y1="382.25" x2="285.35" y2="387.22" stroke="#111" stroke-width="0.8"/>
<line x1="284.14" y1="382.25" x2="286.56" y2="382.25" stroke="#111" stroke-width="1.1"/>
<rect x="283.35" y="387.47" width="4" height="41.33" fill="#69ad42" stroke="#5a9438" stroke-width="0.5"/>
<text transform="translate(227.3,438.7) rotate(-45) scale(0.85,1)" font-size="6.9" text-anchor="end" fill="#1a1a1a">Vehicle</text>
<text transform="translate(246.35,438.7) rotate(-45) scale(0.85,1)" font-size="6.9" text-anchor="end" fill="#1a1a1a">0.1 μM</text>
<text transform="translate(265.4,438.7) rotate(-45) scale(0.85,1)" font-size="6.9" text-anchor="end" fill="#1a1a1a">0.5 μM</text>
<text transform="translate(284.45,438.7) rotate(-45) scale(0.85,1)" font-size="6.9" text-anchor="end" fill="#1a1a1a">1.0 μM</text>
<text class="yt" transform="translate(184.6,401.7) rotate(-90) scale(0.7,1)" font-size="8" text-anchor="middle" fill="#1a1a1a">Mean fluorescence</text>
<text class="yt" transform="translate(194.4,400.6) rotate(-90) scale(0.7,1)" font-size="8" text-anchor="middle" fill="#1a1a1a">intensity GPVI</text>
<rect x="294.4" y="392.9" width="5.6" height="2.8" fill="#a8002c"/>
<text x="304" y="396.4" font-size="6.0" fill="#1a1a1a">Vehicle</text>
<rect x="294.4" y="401.7" width="5.6" height="2.8" fill="#254a8c"/>
<text x="304" y="405.2" font-size="6.0" fill="#1a1a1a">Ibrutinib</text>
<rect x="294.4" y="410.5" width="5.6" height="2.8" fill="#69ad42"/>
<text x="304" y="414" font-size="6.0" fill="#1a1a1a">Zanubrutinib</text>
<line x1="216.6" y1="373.6" x2="216.6" y2="429.4" stroke="#111" stroke-width="1.1"/>
<line x1="216.05" y1="428.8" x2="290.6" y2="428.8" stroke="#111" stroke-width="1.35"/>
<line x1="213.6" y1="428.8" x2="216.6" y2="428.8" stroke="#111" stroke-width="0.9"/>
<text transform="translate(210.3,431.15) scale(0.92,1)" font-size="6.6" text-anchor="end" fill="#1a1a1a">0</text>
<line x1="213.6" y1="418.34" x2="216.6" y2="418.34" stroke="#111" stroke-width="0.9"/>
<text transform="translate(210.3,420.69) scale(0.92,1)" font-size="6.6" text-anchor="end" fill="#1a1a1a">20</text>
<line x1="213.6" y1="407.88" x2="216.6" y2="407.88" stroke="#111" stroke-width="0.9"/>
<text transform="translate(210.3,410.23) scale(0.92,1)" font-size="6.6" text-anchor="end" fill="#1a1a1a">40</text>
<line x1="213.6" y1="397.42" x2="216.6" y2="397.42" stroke="#111" stroke-width="0.9"/>
<text transform="translate(210.3,399.77) scale(0.92,1)" font-size="6.6" text-anchor="end" fill="#1a1a1a">60</text>
<line x1="213.6" y1="386.96" x2="216.6" y2="386.96" stroke="#111" stroke-width="0.9"/>
<text transform="translate(210.3,389.31) scale(0.92,1)" font-size="6.6" text-anchor="end" fill="#1a1a1a">80</text>
<line x1="213.6" y1="376.5" x2="216.6" y2="376.5" stroke="#111" stroke-width="0.9"/>
<text transform="translate(210.3,378.85) scale(0.92,1)" font-size="6.6" text-anchor="end" fill="#1a1a1a">100</text>
<line x1="224.7" y1="428.8" x2="224.7" y2="431.8" stroke="#111" stroke-width="0.9"/>
<line x1="243.75" y1="428.8" x2="243.75" y2="431.8" stroke="#111" stroke-width="0.9"/>
<line x1="262.8" y1="428.8" x2="262.8" y2="431.8" stroke="#111" stroke-width="0.9"/>
<line x1="281.85" y1="428.8" x2="281.85" y2="431.8" stroke="#111" stroke-width="0.9"/>
<text class="lt" transform="translate(353.4,368.2) scale(1.0,1)" font-size="11.2" font-weight="bold" fill="#000">L</text>
<text x="424.2" y="368.9" font-size="6.0" text-anchor="middle" fill="#1a1a1a">Ibrutinib treatment</text>
<line x1="393.3" y1="392.43" x2="393.3" y2="393.38" stroke="#111" stroke-width="0.8"/>
<line x1="391.95" y1="392.43" x2="394.65" y2="392.43" stroke="#111" stroke-width="1.1"/>
<rect x="391.05" y="393.62" width="4.5" height="35.38" fill="#a8002c" stroke="#900025" stroke-width="0.5"/>
<line x1="405.65" y1="425.2" x2="405.65" y2="425.68" stroke="#111" stroke-width="0.8"/>
<line x1="404.3" y1="425.2" x2="407" y2="425.2" stroke="#111" stroke-width="1.1"/>
<rect x="403.4" y="425.93" width="4.5" height="3.07" fill="#254a8c" stroke="#1f3f78" stroke-width="0.5"/>
<line x1="418" y1="394.56" x2="418" y2="395.75" stroke="#111" stroke-width="0.8"/>
<line x1="416.65" y1="394.56" x2="419.35" y2="394.56" stroke="#111" stroke-width="1.1"/>
<rect x="415.75" y="396" width="4.5" height="33" fill="#69ad42" stroke="#5a9438" stroke-width="0.5"/>
<line x1="430.35" y1="395.27" x2="430.35" y2="397.18" stroke="#111" stroke-width="0.8"/>
<line x1="429" y1="395.27" x2="431.7" y2="395.27" stroke="#111" stroke-width="1.1"/>
<rect x="428.1" y="397.43" width="4.5" height="31.57" fill="#4d1f5e" stroke="#421a50" stroke-width="0.5"/>
<line x1="442.7" y1="393.38" x2="442.7" y2="395.75" stroke="#111" stroke-width="0.8"/>
<line x1="441.35" y1="393.38" x2="444.05" y2="393.38" stroke="#111" stroke-width="1.1"/>
<rect x="440.45" y="396" width="4.5" height="33" fill="#e58f1d" stroke="#c47a18" stroke-width="0.5"/>
<line x1="455.05" y1="396.23" x2="455.05" y2="397.65" stroke="#111" stroke-width="0.8"/>
<line x1="453.7" y1="396.23" x2="456.4" y2="396.23" stroke="#111" stroke-width="1.1"/>
<rect x="452.8" y="397.9" width="4.5" height="31.1" fill="#2f6b4b" stroke="#285c40" stroke-width="0.5"/>
<rect x="400.2" y="416.2" width="1.4" height="1.4" fill="#222"/>
<rect x="402.45" y="416.2" width="1.4" height="1.4" fill="#222"/>
<rect x="404.7" y="416.2" width="1.4" height="1.4" fill="#222"/>
<rect x="406.95" y="416.2" width="1.4" height="1.4" fill="#222"/>
<text transform="translate(396.2,438.9) rotate(-45) scale(0.88,1)" font-size="6.9" text-anchor="end" fill="#1a1a1a">Vehicle</text>
<text transform="translate(408.55,438.9) rotate(-45) scale(0.88,1)" font-size="6.9" text-anchor="end" fill="#1a1a1a">Ibrutinib treated</text>
<text transform="translate(420.9,438.9) rotate(-45) scale(0.88,1)" font-size="6.9" text-anchor="end" fill="#1a1a1a">GM6001 only</text>
<text transform="translate(433.25,438.9) rotate(-45) scale(0.88,1)" font-size="6.9" text-anchor="end" fill="#1a1a1a">GM6001 + Ibrutinib</text>
<text transform="translate(445.6,438.9) rotate(-45) scale(0.88,1)" font-size="6.9" text-anchor="end" fill="#1a1a1a">TAPI-2 only</text>
<text transform="translate(457.95,438.9) rotate(-45) scale(0.88,1)" font-size="6.9" text-anchor="end" fill="#1a1a1a">TAPI-2 + Ibrutinib</text>
<text class="yt" transform="translate(355.6,405.3) rotate(-90) scale(0.7,1)" font-size="8" text-anchor="middle" fill="#1a1a1a">Mean fluorescence</text>
<text class="yt" transform="translate(365.3,405) rotate(-90) scale(0.73,1)" font-size="8" text-anchor="middle" fill="#1a1a1a">intensity GPIb<tspan font-size="9.5">α</tspan></text>
<rect x="462.9" y="374.4" width="4.6" height="2.6" fill="#a8002c"/>
<text x="471.2" y="377.8" font-size="6.0" fill="#1a1a1a">Vehicle</text>
<rect x="462.9" y="382.3" width="4.6" height="2.6" fill="#254a8c"/>
<text x="471.2" y="385.7" font-size="6.0" fill="#1a1a1a">Ibrutinib treated</text>
<rect x="462.9" y="390.2" width="4.6" height="2.6" fill="#69ad42"/>
<text x="471.2" y="393.6" font-size="6.0" fill="#1a1a1a">GM6001 only</text>
<rect x="462.9" y="398.1" width="4.6" height="2.6" fill="#4d1f5e"/>
<text x="471.2" y="401.5" font-size="6.0" fill="#1a1a1a">GM6001 +</text>
<text x="471.2" y="409.4" font-size="6.0" fill="#1a1a1a">Ibrutinib</text>
<rect x="462.9" y="413.9" width="4.6" height="2.6" fill="#e58f1d"/>
<text x="471.2" y="417.3" font-size="6.0" fill="#1a1a1a">TAPI-2 only</text>
<rect x="462.9" y="421.8" width="4.6" height="2.6" fill="#2f6b4b"/>
<text x="471.2" y="425.2" font-size="6.0" fill="#1a1a1a">TAPI-2 +</text>
<text x="471.2" y="433.1" font-size="6.0" fill="#1a1a1a">Ibrutinib</text>
<line x1="387.7" y1="379.4" x2="387.7" y2="429.6" stroke="#111" stroke-width="1.1"/>
<line x1="387.15" y1="429" x2="461.3" y2="429" stroke="#111" stroke-width="1.35"/>
<line x1="384.7" y1="429" x2="387.7" y2="429" stroke="#111" stroke-width="0.9"/>
<text transform="translate(381.4,431.35) scale(0.92,1)" font-size="6.6" text-anchor="end" fill="#1a1a1a">0</text>
<line x1="384.7" y1="419.5" x2="387.7" y2="419.5" stroke="#111" stroke-width="0.9"/>
<text transform="translate(381.4,421.85) scale(0.92,1)" font-size="6.6" text-anchor="end" fill="#1a1a1a">20</text>
<line x1="384.7" y1="410" x2="387.7" y2="410" stroke="#111" stroke-width="0.9"/>
<text transform="translate(381.4,412.35) scale(0.92,1)" font-size="6.6" text-anchor="end" fill="#1a1a1a">40</text>
<line x1="384.7" y1="400.5" x2="387.7" y2="400.5" stroke="#111" stroke-width="0.9"/>
<text transform="translate(381.4,402.85) scale(0.92,1)" font-size="6.6" text-anchor="end" fill="#1a1a1a">60</text>
<line x1="384.7" y1="391" x2="387.7" y2="391" stroke="#111" stroke-width="0.9"/>
<text transform="translate(381.4,393.35) scale(0.92,1)" font-size="6.6" text-anchor="end" fill="#1a1a1a">80</text>
<line x1="384.7" y1="381.5" x2="387.7" y2="381.5" stroke="#111" stroke-width="0.9"/>
<text transform="translate(381.4,383.85) scale(0.92,1)" font-size="6.6" text-anchor="end" fill="#1a1a1a">100</text>
<line x1="393.3" y1="429" x2="393.3" y2="432" stroke="#111" stroke-width="0.9"/>
<line x1="405.65" y1="429" x2="405.65" y2="432" stroke="#111" stroke-width="0.9"/>
<line x1="418" y1="429" x2="418" y2="432" stroke="#111" stroke-width="0.9"/>
<line x1="430.35" y1="429" x2="430.35" y2="432" stroke="#111" stroke-width="0.9"/>
<line x1="442.7" y1="429" x2="442.7" y2="432" stroke="#111" stroke-width="0.9"/>
<line x1="455.05" y1="429" x2="455.05" y2="432" stroke="#111" stroke-width="0.9"/>
<text class="lt" transform="translate(8.4,487.6) scale(1.0,1)" font-size="11.2" font-weight="bold" fill="#000">M</text>
<text x="96.3" y="496.2" font-size="5.9" text-anchor="middle" fill="#1a1a1a">Ibrutinib treatment</text>
<line x1="55.3" y1="514.67" x2="55.3" y2="515.6" stroke="#111" stroke-width="0.8"/>
<line x1="53.36" y1="514.67" x2="57.24" y2="514.67" stroke="#111" stroke-width="1.1"/>
<rect x="51.95" y="515.85" width="6.7" height="31.55" fill="#a8002c" stroke="#900025" stroke-width="0.5"/>
<line x1="71.58" y1="535.1" x2="71.58" y2="536.14" stroke="#111" stroke-width="0.8"/>
<line x1="69.64" y1="535.1" x2="73.52" y2="535.1" stroke="#111" stroke-width="1.1"/>
<rect x="68.23" y="536.39" width="6.7" height="11.01" fill="#254a8c" stroke="#1f3f78" stroke-width="0.5"/>
<line x1="87.86" y1="516.54" x2="87.86" y2="517.69" stroke="#111" stroke-width="0.8"/>
<line x1="85.92" y1="516.54" x2="89.8" y2="516.54" stroke="#111" stroke-width="1.1"/>
<rect x="84.51" y="517.94" width="6.7" height="29.46" fill="#69ad42" stroke="#5a9438" stroke-width="0.5"/>
<line x1="104.14" y1="516.12" x2="104.14" y2="517.69" stroke="#111" stroke-width="0.8"/>
<line x1="102.2" y1="516.12" x2="106.08" y2="516.12" stroke="#111" stroke-width="1.1"/>
<rect x="100.79" y="517.94" width="6.7" height="29.46" fill="#4d1f5e" stroke="#421a50" stroke-width="0.5"/>
<line x1="120.42" y1="516.75" x2="120.42" y2="517.79" stroke="#111" stroke-width="0.8"/>
<line x1="118.48" y1="516.75" x2="122.36" y2="516.75" stroke="#111" stroke-width="1.1"/>
<rect x="117.07" y="518.04" width="6.7" height="29.36" fill="#e58f1d" stroke="#c47a18" stroke-width="0.5"/>
<line x1="136.7" y1="516.75" x2="136.7" y2="518.42" stroke="#111" stroke-width="0.8"/>
<line x1="134.76" y1="516.75" x2="138.64" y2="516.75" stroke="#111" stroke-width="1.1"/>
<rect x="133.35" y="518.67" width="6.7" height="28.73" fill="#2f6b4b" stroke="#285c40" stroke-width="0.5"/>
<rect x="66.7" y="532.4" width="1.4" height="1.4" fill="#222"/>
<rect x="68.95" y="532.4" width="1.4" height="1.4" fill="#222"/>
<rect x="71.2" y="532.4" width="1.4" height="1.4" fill="#222"/>
<rect x="73.45" y="532.4" width="1.4" height="1.4" fill="#222"/>
<text transform="translate(58.6,557.3) rotate(-45) scale(0.905,1)" font-size="6.9" text-anchor="end" fill="#1a1a1a">Vehicle</text>
<text transform="translate(74.88,557.3) rotate(-45) scale(0.905,1)" font-size="6.9" text-anchor="end" fill="#1a1a1a">Ibrutinib treated</text>
<text transform="translate(91.16,557.3) rotate(-45) scale(0.905,1)" font-size="6.9" text-anchor="end" fill="#1a1a1a">GM6001 only</text>
<text transform="translate(107.44,557.3) rotate(-45) scale(0.905,1)" font-size="6.9" text-anchor="end" fill="#1a1a1a">GM6001+Ibrutinib</text>
<text transform="translate(123.72,557.3) rotate(-45) scale(0.905,1)" font-size="6.9" text-anchor="end" fill="#1a1a1a">TAPI-2 only</text>
<text transform="translate(140,557.3) rotate(-45) scale(0.905,1)" font-size="6.9" text-anchor="end" fill="#1a1a1a">TAPI-2+Ibrutinib</text>
<text class="yt" transform="translate(13.3,525.7) rotate(-90) scale(0.7,1)" font-size="8" text-anchor="middle" fill="#1a1a1a">Mean fluorescence</text>
<text class="yt" transform="translate(23,525.3) rotate(-90) scale(0.7,1)" font-size="8" text-anchor="middle" fill="#1a1a1a">intensity GPIX</text>
<rect x="151.2" y="503" width="4" height="2.6" fill="#a8002c"/>
<text x="159.2" y="506.4" font-size="6.2" fill="#1a1a1a">Vehicle</text>
<rect x="151.2" y="511.35" width="4" height="2.6" fill="#254a8c"/>
<text x="159.2" y="514.75" font-size="6.2" fill="#1a1a1a">Ibrutinib treated</text>
<rect x="151.2" y="519.7" width="4" height="2.6" fill="#69ad42"/>
<text x="159.2" y="523.1" font-size="6.2" fill="#1a1a1a">GM6001 only</text>
<rect x="151.2" y="528.05" width="4" height="2.6" fill="#4d1f5e"/>
<text x="159.2" y="531.45" font-size="6.2" fill="#1a1a1a">GM6001+Ibrutinib</text>
<rect x="151.2" y="536.4" width="4" height="2.6" fill="#e58f1d"/>
<text x="159.2" y="539.8" font-size="6.2" fill="#1a1a1a">TAPI-2 only</text>
<rect x="151.2" y="544.75" width="4" height="2.6" fill="#2f6b4b"/>
<text x="159.2" y="548.15" font-size="6.2" fill="#1a1a1a">TAPI-2+Ibrutinib</text>
<line x1="47.7" y1="503" x2="47.7" y2="548" stroke="#111" stroke-width="1.1"/>
<line x1="47.15" y1="547.4" x2="145.1" y2="547.4" stroke="#111" stroke-width="1.35"/>
<line x1="44.7" y1="547.4" x2="47.7" y2="547.4" stroke="#111" stroke-width="0.9"/>
<text transform="translate(39.3,549.75) scale(0.92,1)" font-size="6.6" text-anchor="end" fill="#1a1a1a">0</text>
<line x1="44.7" y1="536.98" x2="47.7" y2="536.98" stroke="#111" stroke-width="0.9"/>
<text transform="translate(39.3,539.33) scale(0.92,1)" font-size="6.6" text-anchor="end" fill="#1a1a1a">50</text>
<line x1="44.7" y1="526.55" x2="47.7" y2="526.55" stroke="#111" stroke-width="0.9"/>
<text transform="translate(39.3,528.9) scale(0.92,1)" font-size="6.6" text-anchor="end" fill="#1a1a1a">100</text>
<line x1="44.7" y1="516.12" x2="47.7" y2="516.12" stroke="#111" stroke-width="0.9"/>
<text transform="translate(39.3,518.48) scale(0.92,1)" font-size="6.6" text-anchor="end" fill="#1a1a1a">150</text>
<line x1="44.7" y1="505.7" x2="47.7" y2="505.7" stroke="#111" stroke-width="0.9"/>
<text transform="translate(39.3,508.05) scale(0.92,1)" font-size="6.6" text-anchor="end" fill="#1a1a1a">200</text>
<line x1="55.3" y1="547.4" x2="55.3" y2="550.4" stroke="#111" stroke-width="0.9"/>
<line x1="71.58" y1="547.4" x2="71.58" y2="550.4" stroke="#111" stroke-width="0.9"/>
<line x1="87.86" y1="547.4" x2="87.86" y2="550.4" stroke="#111" stroke-width="0.9"/>
<line x1="104.14" y1="547.4" x2="104.14" y2="550.4" stroke="#111" stroke-width="0.9"/>
<line x1="120.42" y1="547.4" x2="120.42" y2="550.4" stroke="#111" stroke-width="0.9"/>
<line x1="136.7" y1="547.4" x2="136.7" y2="550.4" stroke="#111" stroke-width="0.9"/>
<text class="lt" transform="translate(228.4,487.6) scale(1.0,1)" font-size="11.2" font-weight="bold" fill="#000">N</text>
<text x="325" y="496.2" font-size="5.9" text-anchor="middle" fill="#1a1a1a">Ibrutinib treatment</text>
<line x1="285.6" y1="514.5" x2="285.6" y2="516.26" stroke="#111" stroke-width="0.8"/>
<line x1="283.49" y1="514.5" x2="287.71" y2="514.5" stroke="#111" stroke-width="1.1"/>
<rect x="281.95" y="516.51" width="7.3" height="30.99" fill="#a8002c" stroke="#900025" stroke-width="0.5"/>
<line x1="301.32" y1="546.95" x2="301.32" y2="547.17" stroke="#111" stroke-width="0.8"/>
<line x1="299.21" y1="546.95" x2="303.43" y2="546.95" stroke="#111" stroke-width="1.1"/>
<rect x="297.67" y="547.42" width="7.3" height="0.3" fill="#254a8c" stroke="#1f3f78" stroke-width="0.5"/>
<line x1="317.04" y1="515.6" x2="317.04" y2="516.7" stroke="#111" stroke-width="0.8"/>
<line x1="314.93" y1="515.6" x2="319.15" y2="515.6" stroke="#111" stroke-width="1.1"/>
<rect x="313.39" y="516.95" width="7.3" height="30.55" fill="#69ad42" stroke="#5a9438" stroke-width="0.5"/>
<line x1="332.76" y1="546.95" x2="332.76" y2="547.17" stroke="#111" stroke-width="0.8"/>
<line x1="330.65" y1="546.95" x2="334.87" y2="546.95" stroke="#111" stroke-width="1.1"/>
<rect x="329.11" y="547.42" width="7.3" height="0.3" fill="#4d1f5e" stroke="#421a50" stroke-width="0.5"/>
<line x1="348.48" y1="516.26" x2="348.48" y2="517.14" stroke="#111" stroke-width="0.8"/>
<line x1="346.37" y1="516.26" x2="350.59" y2="516.26" stroke="#111" stroke-width="1.1"/>
<rect x="344.83" y="517.39" width="7.3" height="30.11" fill="#e58f1d" stroke="#c47a18" stroke-width="0.5"/>
<line x1="364.2" y1="546.95" x2="364.2" y2="547.17" stroke="#111" stroke-width="0.8"/>
<line x1="362.09" y1="546.95" x2="366.31" y2="546.95" stroke="#111" stroke-width="1.1"/>
<rect x="360.55" y="547.42" width="7.3" height="0.3" fill="#2f6b4b" stroke="#285c40" stroke-width="0.5"/>
<rect x="296.82" y="544" width="1.4" height="1.4" fill="#222"/>
<rect x="299.07" y="544" width="1.4" height="1.4" fill="#222"/>
<rect x="301.32" y="544" width="1.4" height="1.4" fill="#222"/>
<rect x="303.57" y="544" width="1.4" height="1.4" fill="#222"/>
<rect x="328.26" y="544" width="1.4" height="1.4" fill="#222"/>
<rect x="330.51" y="544" width="1.4" height="1.4" fill="#222"/>
<rect x="332.76" y="544" width="1.4" height="1.4" fill="#222"/>
<rect x="335.01" y="544" width="1.4" height="1.4" fill="#222"/>
<rect x="359.7" y="544" width="1.4" height="1.4" fill="#222"/>
<rect x="361.95" y="544" width="1.4" height="1.4" fill="#222"/>
<rect x="364.2" y="544" width="1.4" height="1.4" fill="#222"/>
<rect x="366.45" y="544" width="1.4" height="1.4" fill="#222"/>
<text transform="translate(288.9,557.4) rotate(-45) scale(0.905,1)" font-size="6.9" text-anchor="end" fill="#1a1a1a">Vehicle</text>
<text transform="translate(304.62,557.4) rotate(-45) scale(0.905,1)" font-size="6.9" text-anchor="end" fill="#1a1a1a">Ibrutinib treated</text>
<text transform="translate(320.34,557.4) rotate(-45) scale(0.905,1)" font-size="6.9" text-anchor="end" fill="#1a1a1a">GM6001 only</text>
<text transform="translate(336.06,557.4) rotate(-45) scale(0.905,1)" font-size="6.9" text-anchor="end" fill="#1a1a1a">GM6001+Ibrutinib</text>
<text transform="translate(351.78,557.4) rotate(-45) scale(0.905,1)" font-size="6.9" text-anchor="end" fill="#1a1a1a">TAPI-2 only</text>
<text transform="translate(367.5,557.4) rotate(-45) scale(0.905,1)" font-size="6.9" text-anchor="end" fill="#1a1a1a">TAPI-2+Ibrutinib</text>
<text class="yt" transform="translate(245.5,524.9) rotate(-90) scale(0.7,1)" font-size="8" text-anchor="middle" fill="#1a1a1a">Mean fluorescence</text>
<text class="yt" transform="translate(255,523.8) rotate(-90) scale(0.76,1)" font-size="8" text-anchor="middle" fill="#1a1a1a">intensity integrin <tspan font-size="9.5">α</tspan><tspan font-size="5" dy="1.8">IIb</tspan><tspan font-size="9" dy="-1.8">β</tspan><tspan font-size="5" dy="1.8">3</tspan></text>
<rect x="377" y="502.7" width="4.2" height="2.6" fill="#a8002c"/>
<text x="385.5" y="506.1" font-size="6.2" fill="#1a1a1a">Vehicle</text>
<rect x="377" y="511.1" width="4.2" height="2.6" fill="#254a8c"/>
<text x="385.5" y="514.5" font-size="6.2" fill="#1a1a1a">Ibrutinib treated</text>
<rect x="377" y="519.5" width="4.2" height="2.6" fill="#69ad42"/>
<text x="385.5" y="522.9" font-size="6.2" fill="#1a1a1a">GM6001 only</text>
<rect x="377" y="527.9" width="4.2" height="2.6" fill="#4d1f5e"/>
<text x="385.5" y="531.3" font-size="6.2" fill="#1a1a1a">GM6001+Ibrutinib</text>
<rect x="377" y="536.3" width="4.2" height="2.6" fill="#e58f1d"/>
<text x="385.5" y="539.7" font-size="6.2" fill="#1a1a1a">TAPI-2 only</text>
<rect x="377" y="544.7" width="4.2" height="2.6" fill="#2f6b4b"/>
<text x="385.5" y="548.1" font-size="6.2" fill="#1a1a1a">TAPI-2+Ibrutinib</text>
<line x1="278" y1="501.3" x2="278" y2="548.1" stroke="#111" stroke-width="1.1"/>
<line x1="277.45" y1="547.5" x2="373.6" y2="547.5" stroke="#111" stroke-width="1.35"/>
<line x1="275" y1="547.5" x2="278" y2="547.5" stroke="#111" stroke-width="0.9"/>
<text transform="translate(271.7,549.85) scale(0.92,1)" font-size="6.6" text-anchor="end" fill="#1a1a1a">0</text>
<line x1="275" y1="536.5" x2="278" y2="536.5" stroke="#111" stroke-width="0.9"/>
<text transform="translate(271.7,538.85) scale(0.92,1)" font-size="6.6" text-anchor="end" fill="#1a1a1a">50</text>
<line x1="275" y1="525.5" x2="278" y2="525.5" stroke="#111" stroke-width="0.9"/>
<text transform="translate(271.7,527.85) scale(0.92,1)" font-size="6.6" text-anchor="end" fill="#1a1a1a">100</text>
<line x1="275" y1="514.5" x2="278" y2="514.5" stroke="#111" stroke-width="0.9"/>
<text transform="translate(271.7,516.85) scale(0.92,1)" font-size="6.6" text-anchor="end" fill="#1a1a1a">150</text>
<line x1="275" y1="503.5" x2="278" y2="503.5" stroke="#111" stroke-width="0.9"/>
<text transform="translate(271.7,505.85) scale(0.92,1)" font-size="6.6" text-anchor="end" fill="#1a1a1a">200</text>
<line x1="285.6" y1="547.5" x2="285.6" y2="550.5" stroke="#111" stroke-width="0.9"/>
<line x1="301.32" y1="547.5" x2="301.32" y2="550.5" stroke="#111" stroke-width="0.9"/>
<line x1="317.04" y1="547.5" x2="317.04" y2="550.5" stroke="#111" stroke-width="0.9"/>
<line x1="332.76" y1="547.5" x2="332.76" y2="550.5" stroke="#111" stroke-width="0.9"/>
<line x1="348.48" y1="547.5" x2="348.48" y2="550.5" stroke="#111" stroke-width="0.9"/>
<line x1="364.2" y1="547.5" x2="364.2" y2="550.5" stroke="#111" stroke-width="0.9"/>
<rect x="0.5" y="0.5" width="519" height="595" fill="none" stroke="#000" stroke-width="1.1"/>
<line x1="0.6" y1="0" x2="0.6" y2="596" stroke="#000" stroke-width="1.2"/>
</svg>
</body></html>
